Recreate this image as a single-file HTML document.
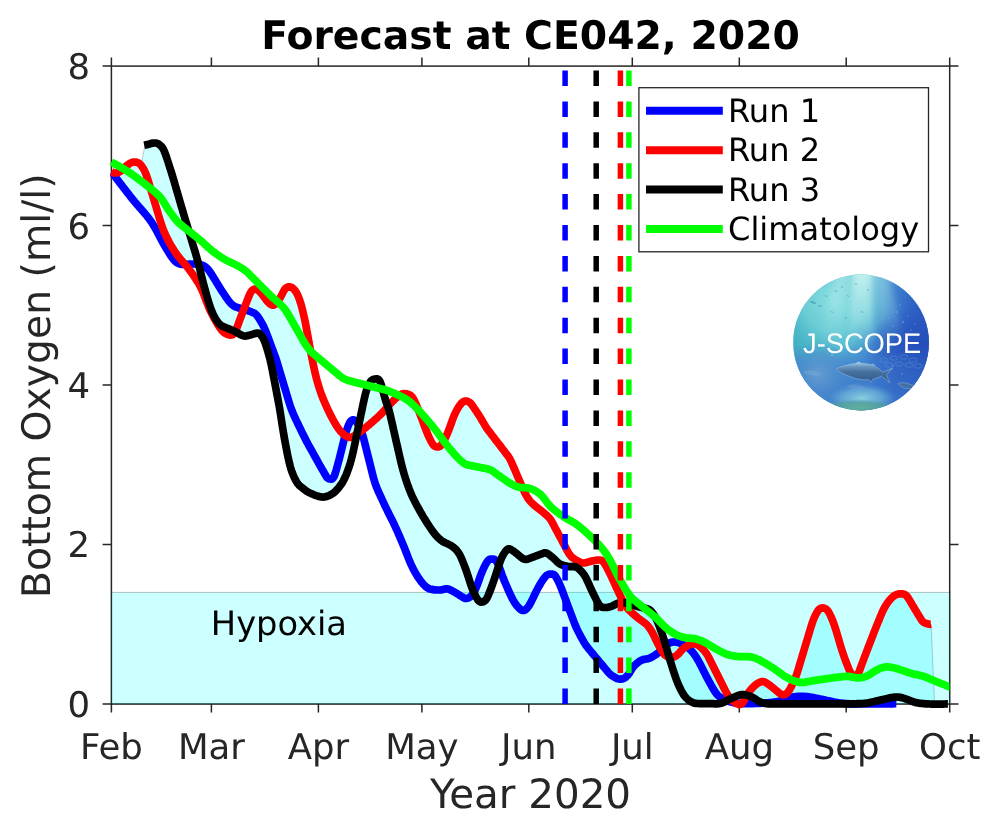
<!DOCTYPE html>
<html lang="en"><head><meta charset="utf-8"><title>Forecast at CE042, 2020</title>
<style>html,body{margin:0;padding:0;background:#fff}svg{display:block;will-change:transform}text{font-family:"DejaVu Sans","Liberation Sans",sans-serif;fill:#262626}</style></head><body>
<svg text-rendering="geometricPrecision" width="1000" height="829" viewBox="0 0 1000 829">
<rect width="1000" height="829" fill="#fff"/>
<g stroke="#262626" stroke-width="1.5" fill="none">
<rect x="111.4" y="66.1" width="838.3" height="637.9"/>
<path d="M111.4,704.0 v8.5 M111.4,66.1 v-8.5"/>
<path d="M211.4,704.0 v8.5 M211.4,66.1 v-8.5"/>
<path d="M318.4,704.0 v8.5 M318.4,66.1 v-8.5"/>
<path d="M421.9,704.0 v8.5 M421.9,66.1 v-8.5"/>
<path d="M528.8,704.0 v8.5 M528.8,66.1 v-8.5"/>
<path d="M632.3,704.0 v8.5 M632.3,66.1 v-8.5"/>
<path d="M739.3,704.0 v8.5 M739.3,66.1 v-8.5"/>
<path d="M846.2,704.0 v8.5 M846.2,66.1 v-8.5"/>
<path d="M949.7,704.0 v8.5 M949.7,66.1 v-8.5"/>
<path d="M111.4,704.0 h-8.8 M949.7,704.0 h8.8"/>
<path d="M111.4,544.5 h-8.8 M949.7,544.5 h8.8"/>
<path d="M111.4,385.1 h-8.8 M949.7,385.1 h8.8"/>
<path d="M111.4,225.6 h-8.8 M949.7,225.6 h8.8"/>
<path d="M111.4,66.1 h-8.8 M949.7,66.1 h8.8"/>
</g>
<rect x="111.4" y="592.4" width="838.3" height="111.6" fill="#00ffff" fill-opacity="0.2" stroke="#000" stroke-opacity="0.25" stroke-width="1"/>
<path d="M112.0,172.1 L113.0,172.5 L114.0,172.8 L115.0,173.0 L116.0,173.0 L117.0,172.9 L118.0,172.6 L119.0,172.1 L120.0,171.5 L121.0,170.8 L122.0,170.0 L123.0,169.1 L124.0,168.1 L125.0,167.1 L126.0,166.2 L127.0,165.4 L128.0,164.6 L129.0,163.9 L130.0,163.3 L131.0,162.8 L132.0,162.4 L133.0,162.2 L134.0,162.0 L135.0,162.0 L136.0,162.1 L137.0,162.4 L138.0,162.8 L139.0,163.3 L140.0,164.1 L141.0,165.2 L145.0,145.1 L146.0,144.9 L147.0,144.7 L148.0,144.4 L149.0,144.1 L150.0,143.8 L151.0,143.5 L152.0,143.3 L153.0,143.1 L154.0,143.0 L155.0,143.0 L156.0,143.1 L157.0,143.4 L158.0,143.7 L159.0,144.2 L160.0,145.1 L161.0,146.0 L162.0,147.1 L163.0,148.5 L164.0,150.5 L165.0,153.1 L166.0,155.8 L167.0,158.8 L168.0,161.8 L169.0,164.9 L170.0,168.1 L171.0,171.2 L172.0,174.4 L173.0,177.6 L174.0,181.0 L175.0,184.5 L176.0,187.9 L177.0,191.4 L178.0,194.9 L179.0,198.3 L180.0,201.7 L181.0,205.1 L182.0,208.5 L183.0,211.9 L184.0,215.3 L185.0,218.7 L186.0,222.0 L187.0,225.3 L188.0,228.6 L189.0,231.8 L190.0,235.1 L191.0,238.4 L192.0,241.6 L193.0,244.9 L194.0,248.2 L195.0,251.6 L196.0,254.9 L197.0,258.3 L198.0,261.8 L199.0,264.4 L200.0,264.6 L201.0,264.8 L202.0,265.2 L203.0,265.5 L204.0,266.0 L205.0,266.6 L206.0,267.4 L207.0,268.3 L208.0,269.4 L209.0,270.7 L210.0,272.0 L211.0,273.5 L212.0,275.0 L213.0,276.6 L214.0,278.2 L215.0,279.8 L216.0,281.5 L217.0,283.1 L218.0,284.8 L219.0,286.4 L220.0,288.0 L221.0,289.6 L222.0,291.1 L223.0,292.7 L224.0,294.2 L225.0,295.7 L226.0,297.2 L227.0,298.6 L228.0,300.0 L229.0,301.3 L230.0,302.5 L231.0,303.6 L232.0,304.5 L233.0,305.3 L234.0,306.0 L235.0,306.6 L236.0,307.0 L237.0,307.3 L238.0,307.7 L239.0,308.0 L240.0,308.3 L241.0,308.5 L242.0,308.8 L243.0,309.1 L244.0,308.8 L245.0,306.2 L246.0,303.6 L247.0,301.1 L248.0,298.5 L249.0,296.0 L250.0,293.7 L251.0,291.9 L252.0,290.6 L253.0,289.7 L254.0,289.1 L255.0,289.0 L256.0,289.2 L257.0,289.6 L258.0,290.2 L259.0,291.0 L260.0,292.0 L261.0,293.1 L262.0,294.4 L263.0,295.7 L264.0,297.0 L265.0,298.4 L266.0,299.7 L267.0,300.9 L268.0,302.0 L269.0,303.0 L270.0,303.9 L271.0,304.6 L272.0,305.0 L273.0,305.2 L274.0,305.0 L275.0,304.4 L276.0,303.5 L277.0,302.3 L278.0,301.0 L279.0,299.5 L280.0,298.0 L281.0,296.3 L282.0,294.4 L283.0,292.4 L284.0,290.5 L285.0,289.0 L286.0,287.9 L287.0,287.3 L288.0,287.0 L289.0,286.9 L290.0,287.0 L291.0,287.2 L292.0,287.7 L293.0,288.4 L294.0,289.4 L295.0,290.6 L296.0,292.0 L297.0,293.7 L298.0,295.8 L299.0,298.3 L300.0,301.1 L301.0,304.4 L302.0,308.0 L303.0,312.0 L304.0,316.3 L305.0,320.9 L306.0,326.0 L307.0,331.4 L308.0,337.0 L309.0,342.6 L310.0,348.0 L311.0,353.2 L312.0,358.3 L313.0,363.2 L314.0,368.0 L315.0,372.5 L316.0,376.6 L317.0,380.4 L318.0,384.0 L319.0,387.3 L320.0,390.5 L321.0,393.4 L322.0,396.0 L323.0,398.5 L324.0,400.9 L325.0,403.2 L326.0,405.5 L327.0,407.7 L328.0,409.9 L329.0,412.0 L330.0,414.0 L331.0,416.0 L332.0,417.9 L333.0,419.7 L334.0,421.5 L335.0,423.3 L336.0,424.9 L337.0,426.5 L338.0,428.0 L339.0,429.4 L340.0,430.7 L341.0,431.8 L342.0,432.9 L343.0,433.8 L344.0,434.6 L345.0,435.4 L346.0,432.4 L347.0,429.2 L348.0,426.4 L349.0,424.0 L350.0,422.1 L351.0,420.8 L352.0,420.1 L353.0,419.8 L354.0,420.0 L355.0,420.5 L356.0,421.3 L357.0,422.5 L358.0,424.0 L359.0,424.0 L360.0,419.2 L361.0,414.4 L362.0,409.6 L363.0,404.8 L364.0,400.0 L365.0,395.6 L366.0,391.9 L367.0,388.8 L368.0,386.2 L369.0,384.0 L370.0,382.2 L371.0,380.9 L372.0,380.0 L373.0,379.4 L374.0,379.1 L375.0,379.0 L376.0,378.9 L377.0,378.9 L378.0,379.2 L379.0,380.0 L380.0,381.6 L381.0,384.0 L382.0,387.3 L383.0,390.9 L384.0,394.7 L385.0,398.3 L386.0,401.5 L387.0,404.3 L388.0,406.4 L389.0,405.2 L390.0,404.1 L391.0,403.1 L392.0,402.0 L393.0,401.0 L394.0,400.0 L395.0,399.1 L396.0,398.2 L397.0,397.4 L398.0,396.5 L399.0,395.8 L400.0,395.0 L401.0,394.4 L402.0,394.0 L403.0,393.7 L404.0,393.7 L405.0,393.7 L406.0,393.8 L407.0,394.0 L408.0,394.2 L409.0,394.6 L410.0,395.1 L411.0,395.9 L412.0,396.9 L413.0,398.2 L414.0,400.0 L415.0,402.0 L416.0,404.2 L417.0,406.5 L418.0,408.9 L419.0,411.4 L420.0,414.0 L421.0,416.6 L422.0,419.3 L423.0,422.0 L424.0,424.7 L425.0,427.4 L426.0,430.0 L427.0,432.5 L428.0,434.9 L429.0,437.1 L430.0,439.2 L431.0,441.1 L432.0,443.0 L433.0,444.6 L434.0,445.7 L435.0,446.4 L436.0,446.8 L437.0,447.0 L438.0,447.0 L439.0,446.8 L440.0,446.2 L441.0,445.3 L442.0,444.0 L443.0,442.4 L444.0,440.6 L445.0,438.7 L446.0,436.6 L447.0,434.4 L448.0,432.0 L449.0,429.5 L450.0,426.8 L451.0,424.0 L452.0,421.2 L453.0,418.5 L454.0,416.0 L455.0,413.7 L456.0,411.7 L457.0,409.8 L458.0,408.0 L459.0,406.4 L460.0,405.0 L461.0,403.7 L462.0,402.7 L463.0,401.9 L464.0,401.3 L465.0,401.0 L466.0,401.0 L467.0,401.2 L468.0,401.5 L469.0,402.0 L470.0,402.7 L471.0,403.7 L472.0,405.0 L473.0,406.4 L474.0,407.9 L475.0,409.4 L476.0,410.8 L477.0,412.3 L478.0,413.9 L479.0,415.4 L480.0,417.0 L481.0,418.6 L482.0,420.3 L483.0,422.1 L484.0,423.8 L485.0,425.5 L486.0,427.1 L487.0,428.6 L488.0,430.0 L489.0,431.3 L490.0,432.6 L491.0,433.9 L492.0,435.2 L493.0,436.5 L494.0,437.8 L495.0,439.1 L496.0,440.4 L497.0,441.7 L498.0,443.0 L499.0,444.3 L500.0,445.6 L501.0,446.9 L502.0,448.2 L503.0,449.5 L504.0,450.8 L505.0,452.1 L506.0,453.4 L507.0,454.7 L508.0,456.0 L509.0,457.5 L510.0,459.3 L511.0,461.3 L512.0,463.4 L513.0,465.7 L514.0,468.0 L515.0,470.3 L516.0,472.6 L517.0,475.0 L518.0,477.3 L519.0,479.7 L520.0,482.0 L521.0,484.3 L522.0,486.6 L523.0,488.8 L524.0,490.9 L525.0,493.0 L526.0,495.0 L527.0,496.8 L528.0,498.4 L529.0,499.8 L530.0,501.0 L531.0,502.1 L532.0,503.1 L533.0,504.1 L534.0,505.0 L535.0,505.9 L536.0,506.7 L537.0,507.5 L538.0,508.3 L539.0,509.0 L540.0,509.7 L541.0,510.5 L542.0,511.3 L543.0,512.1 L544.0,513.0 L545.0,513.9 L546.0,514.7 L547.0,515.6 L548.0,516.5 L549.0,517.6 L550.0,518.8 L551.0,520.3 L552.0,522.0 L553.0,523.9 L554.0,525.8 L555.0,527.6 L556.0,529.5 L557.0,531.4 L558.0,533.2 L559.0,535.1 L560.0,537.0 L561.0,538.9 L562.0,540.8 L563.0,542.6 L564.0,544.5 L565.0,546.4 L566.0,548.2 L567.0,550.1 L568.0,552.0 L569.0,553.7 L570.0,555.1 L571.0,556.3 L572.0,557.2 L573.0,558.0 L574.0,558.7 L575.0,559.4 L576.0,560.0 L577.0,560.6 L578.0,561.2 L579.0,561.8 L580.0,562.3 L581.0,562.7 L582.0,562.9 L583.0,563.1 L584.0,563.0 L585.0,562.8 L586.0,562.6 L587.0,562.3 L588.0,562.1 L589.0,561.8 L590.0,561.5 L591.0,561.2 L592.0,561.0 L593.0,560.8 L594.0,560.6 L595.0,560.4 L596.0,560.3 L597.0,560.2 L598.0,560.1 L599.0,560.0 L600.0,560.0 L601.0,560.2 L602.0,560.7 L603.0,561.6 L604.0,562.8 L605.0,564.3 L606.0,566.0 L607.0,567.9 L608.0,569.8 L609.0,571.8 L610.0,573.8 L611.0,575.9 L612.0,578.0 L613.0,580.2 L614.0,582.3 L615.0,584.5 L616.0,586.7 L617.0,588.9 L618.0,591.0 L619.0,593.1 L620.0,595.2 L621.0,597.2 L622.0,599.2 L623.0,601.1 L624.0,602.8 L625.0,602.9 L626.0,603.0 L627.0,603.2 L628.0,603.5 L629.0,603.8 L630.0,604.1 L631.0,604.4 L632.0,604.7 L633.0,605.0 L634.0,605.3 L635.0,605.6 L636.0,605.9 L637.0,606.2 L638.0,606.5 L639.0,606.8 L640.0,607.0 L641.0,607.3 L642.0,607.5 L643.0,607.8 L644.0,608.0 L645.0,608.2 L646.0,608.5 L647.0,608.7 L648.0,609.0 L649.0,609.4 L650.0,610.1 L651.0,611.0 L652.0,612.2 L653.0,613.5 L654.0,615.0 L655.0,616.7 L656.0,618.5 L657.0,620.6 L658.0,622.8 L659.0,625.3 L660.0,628.0 L661.0,630.8 L662.0,633.7 L663.0,636.7 L664.0,639.8 L665.0,643.0 L666.0,645.0 L667.0,644.3 L668.0,643.7 L669.0,643.2 L670.0,642.7 L671.0,642.4 L672.0,642.2 L673.0,642.1 L674.0,642.0 L675.0,642.0 L676.0,642.1 L677.0,642.3 L678.0,642.5 L679.0,642.8 L680.0,643.2 L681.0,643.6 L682.0,644.0 L683.0,644.5 L684.0,645.0 L685.0,645.6 L686.0,646.2 L687.0,646.0 L688.0,645.5 L689.0,645.0 L690.0,644.6 L691.0,644.2 L692.0,644.0 L693.0,643.9 L694.0,643.9 L695.0,644.0 L696.0,644.3 L697.0,644.7 L698.0,645.2 L699.0,645.8 L700.0,646.6 L701.0,647.4 L702.0,648.4 L703.0,649.3 L704.0,650.4 L705.0,651.6 L706.0,652.9 L707.0,654.4 L708.0,656.1 L709.0,658.0 L710.0,660.0 L711.0,662.0 L712.0,664.0 L713.0,666.0 L714.0,668.0 L715.0,670.0 L716.0,672.0 L717.0,674.0 L718.0,676.0 L719.0,678.0 L720.0,680.0 L721.0,682.0 L722.0,684.0 L723.0,686.0 L724.0,688.0 L725.0,690.0 L726.0,691.9 L727.0,693.6 L728.0,695.2 L729.0,696.6 L730.0,698.0 L731.0,698.5 L732.0,698.1 L733.0,697.6 L734.0,697.2 L735.0,696.7 L736.0,696.3 L737.0,695.9 L738.0,695.5 L739.0,695.2 L740.0,694.9 L741.0,694.7 L742.0,694.7 L743.0,694.6 L744.0,694.7 L745.0,694.8 L746.0,695.0 L747.0,694.9 L748.0,693.1 L749.0,691.8 L750.0,690.6 L751.0,689.4 L752.0,688.3 L753.0,687.2 L754.0,686.2 L755.0,685.3 L756.0,684.5 L757.0,683.8 L758.0,683.2 L759.0,682.6 L760.0,682.2 L761.0,681.8 L762.0,681.6 L763.0,681.6 L764.0,681.7 L765.0,682.1 L766.0,682.7 L767.0,683.4 L768.0,684.1 L769.0,684.8 L770.0,685.5 L771.0,686.3 L772.0,687.0 L773.0,687.8 L774.0,688.6 L775.0,689.4 L776.0,690.3 L777.0,691.1 L778.0,692.0 L779.0,692.8 L780.0,693.6 L781.0,694.2 L782.0,694.5 L783.0,694.6 L784.0,694.6 L785.0,694.4 L786.0,693.9 L787.0,693.1 L788.0,692.0 L789.0,690.6 L790.0,688.9 L791.0,687.0 L792.0,685.1 L793.0,683.1 L794.0,681.0 L795.0,678.7 L796.0,676.2 L797.0,673.3 L798.0,670.2 L799.0,666.9 L800.0,663.5 L801.0,660.2 L802.0,656.9 L803.0,653.5 L804.0,650.2 L805.0,646.9 L806.0,643.5 L807.0,640.2 L808.0,636.9 L809.0,633.5 L810.0,630.2 L811.0,626.9 L812.0,623.7 L813.0,620.8 L814.0,618.3 L815.0,616.0 L816.0,614.0 L817.0,612.3 L818.0,610.7 L819.0,609.5 L820.0,608.7 L821.0,608.2 L822.0,608.0 L823.0,608.0 L824.0,608.1 L825.0,608.4 L826.0,609.0 L827.0,609.8 L828.0,611.0 L829.0,612.7 L830.0,614.6 L831.0,616.7 L832.0,619.0 L833.0,621.5 L834.0,624.3 L835.0,627.2 L836.0,630.3 L837.0,633.6 L838.0,637.0 L839.0,640.5 L840.0,643.9 L841.0,647.2 L842.0,650.4 L843.0,653.4 L844.0,656.3 L845.0,659.1 L846.0,661.8 L847.0,664.4 L848.0,667.0 L849.0,669.4 L850.0,671.5 L851.0,673.1 L852.0,674.4 L853.0,675.5 L854.0,676.2 L855.0,676.5 L856.0,676.4 L857.0,675.7 L858.0,674.2 L859.0,671.9 L860.0,669.2 L861.0,666.6 L862.0,663.9 L863.0,661.2 L864.0,658.5 L865.0,655.8 L866.0,653.2 L867.0,650.6 L868.0,648.0 L869.0,645.4 L870.0,642.8 L871.0,640.2 L872.0,637.6 L873.0,635.0 L874.0,632.4 L875.0,629.9 L876.0,627.4 L877.0,624.9 L878.0,622.4 L879.0,620.0 L880.0,617.5 L881.0,615.1 L882.0,612.8 L883.0,610.5 L884.0,608.5 L885.0,606.7 L886.0,605.0 L887.0,603.5 L888.0,602.2 L889.0,600.9 L890.0,599.7 L891.0,598.6 L892.0,597.6 L893.0,596.7 L894.0,595.9 L895.0,595.3 L896.0,594.8 L897.0,594.4 L898.0,594.1 L899.0,593.9 L900.0,593.8 L901.0,593.8 L902.0,593.8 L903.0,593.9 L904.0,594.2 L905.0,594.6 L906.0,595.3 L907.0,596.3 L908.0,597.7 L909.0,599.3 L910.0,601.0 L911.0,602.6 L912.0,604.3 L913.0,606.0 L914.0,607.7 L915.0,609.3 L916.0,611.0 L917.0,612.6 L918.0,614.3 L919.0,615.9 L920.0,617.6 L921.0,619.2 L922.0,620.7 L923.0,621.8 L924.0,622.5 L925.0,623.0 L926.0,623.4 L927.0,623.7 L928.0,623.9 L929.0,624.2 L930.0,624.3 L931.0,624.2 L931.0,624.2 L934.6,704.0 L934.0,704.0 L933.0,704.0 L932.0,704.0 L931.0,704.0 L930.0,704.0 L929.0,704.0 L928.0,703.9 L927.0,703.9 L926.0,703.8 L925.0,703.8 L924.0,703.7 L923.0,703.6 L922.0,703.5 L921.0,703.4 L920.0,703.3 L919.0,703.1 L918.0,703.0 L917.0,702.8 L916.0,702.5 L915.0,702.3 L914.0,702.0 L913.0,701.7 L912.0,701.3 L911.0,700.9 L910.0,700.5 L909.0,700.1 L908.0,699.7 L907.0,699.3 L906.0,699.0 L905.0,698.7 L904.0,698.4 L903.0,698.1 L902.0,697.8 L901.0,697.5 L900.0,697.3 L899.0,697.1 L898.0,697.0 L897.0,697.0 L896.0,703.7 L895.0,703.7 L894.0,703.7 L893.0,703.8 L892.0,703.8 L891.0,703.8 L890.0,703.8 L889.0,703.8 L888.0,703.8 L887.0,703.8 L886.0,703.9 L885.0,703.9 L884.0,703.9 L883.0,703.9 L882.0,703.9 L881.0,703.9 L880.0,703.9 L879.0,703.9 L878.0,703.9 L877.0,703.9 L876.0,704.0 L875.0,704.0 L874.0,704.0 L873.0,704.0 L872.0,704.0 L871.0,704.0 L870.0,704.0 L869.0,704.0 L868.0,704.0 L867.0,704.0 L866.0,704.0 L865.0,704.0 L864.0,704.0 L863.0,704.0 L862.0,704.0 L861.0,704.0 L860.0,704.0 L859.0,704.0 L858.0,704.0 L857.0,704.0 L856.0,704.0 L855.0,704.0 L854.0,704.0 L853.0,704.0 L852.0,704.0 L851.0,703.9 L850.0,703.9 L849.0,703.9 L848.0,703.9 L847.0,703.9 L846.0,703.9 L845.0,703.9 L844.0,703.9 L843.0,703.9 L842.0,703.9 L841.0,703.9 L840.0,703.9 L839.0,703.9 L838.0,703.9 L837.0,703.9 L836.0,703.9 L835.0,703.9 L834.0,703.9 L833.0,703.9 L832.0,703.9 L831.0,703.9 L830.0,703.9 L829.0,703.9 L828.0,703.9 L827.0,703.9 L826.0,703.9 L825.0,703.9 L824.0,703.9 L823.0,703.9 L822.0,703.9 L821.0,703.9 L820.0,703.9 L819.0,703.9 L818.0,703.9 L817.0,703.9 L816.0,703.9 L815.0,703.9 L814.0,703.9 L813.0,703.9 L812.0,703.9 L811.0,703.9 L810.0,703.9 L809.0,703.9 L808.0,703.9 L807.0,703.9 L806.0,703.9 L805.0,703.9 L804.0,703.9 L803.0,703.9 L802.0,703.9 L801.0,703.9 L800.0,703.9 L799.0,703.9 L798.0,703.9 L797.0,703.9 L796.0,703.9 L795.0,703.9 L794.0,703.9 L793.0,703.9 L792.0,703.9 L791.0,703.9 L790.0,703.9 L789.0,703.9 L788.0,703.9 L787.0,703.9 L786.0,703.9 L785.0,703.9 L784.0,703.9 L783.0,703.9 L782.0,703.9 L781.0,703.9 L780.0,703.9 L779.0,703.9 L778.0,703.9 L777.0,703.9 L776.0,703.9 L775.0,703.9 L774.0,703.9 L773.0,703.8 L772.0,703.8 L771.0,703.8 L770.0,703.8 L769.0,703.8 L768.0,703.8 L767.0,703.7 L766.0,703.6 L765.0,703.4 L764.0,703.2 L763.0,703.1 L762.0,703.2 L761.0,703.2 L760.0,703.3 L759.0,703.4 L758.0,703.4 L757.0,703.5 L756.0,703.5 L755.0,703.5 L754.0,703.6 L753.0,703.6 L752.0,703.6 L751.0,703.6 L750.0,703.7 L749.0,703.7 L748.0,703.7 L747.0,703.7 L746.0,703.6 L745.0,703.6 L744.0,703.6 L743.0,703.6 L742.0,703.6 L741.0,704.0 L740.0,704.0 L739.0,704.0 L738.0,704.0 L737.0,703.8 L736.0,703.2 L735.0,702.9 L734.0,702.7 L733.0,702.4 L732.0,702.2 L731.0,702.0 L730.0,701.8 L729.0,701.5 L728.0,701.1 L727.0,700.8 L726.0,701.2 L725.0,701.7 L724.0,702.2 L723.0,702.6 L722.0,703.0 L721.0,703.3 L720.0,703.5 L719.0,703.6 L718.0,703.7 L717.0,703.8 L716.0,703.8 L715.0,703.8 L714.0,703.8 L713.0,703.7 L712.0,703.7 L711.0,703.7 L710.0,703.7 L709.0,703.7 L708.0,703.7 L707.0,703.7 L706.0,703.7 L705.0,703.7 L704.0,703.7 L703.0,703.7 L702.0,703.7 L701.0,703.6 L700.0,703.6 L699.0,703.6 L698.0,703.5 L697.0,703.5 L696.0,703.4 L695.0,703.3 L694.0,703.0 L693.0,702.6 L692.0,702.2 L691.0,701.7 L690.0,701.1 L689.0,700.5 L688.0,699.7 L687.0,698.7 L686.0,697.7 L685.0,696.5 L684.0,695.2 L683.0,693.7 L682.0,692.0 L681.0,690.1 L680.0,688.1 L679.0,686.0 L678.0,683.7 L677.0,681.2 L676.0,678.5 L675.0,675.6 L674.0,672.6 L673.0,669.6 L672.0,666.5 L671.0,663.3 L670.0,660.0 L669.0,656.9 L668.0,656.7 L667.0,656.4 L666.0,655.9 L665.0,655.1 L664.0,654.0 L663.0,652.6 L662.0,651.1 L661.0,650.1 L660.0,651.2 L659.0,652.2 L658.0,653.0 L657.0,653.8 L656.0,654.5 L655.0,655.2 L654.0,655.8 L653.0,656.4 L652.0,657.0 L651.0,657.5 L650.0,658.0 L649.0,658.4 L648.0,658.7 L647.0,658.9 L646.0,659.0 L645.0,659.2 L644.0,659.4 L643.0,659.6 L642.0,660.0 L641.0,660.5 L640.0,661.0 L639.0,661.7 L638.0,662.4 L637.0,663.2 L636.0,664.1 L635.0,665.0 L634.0,666.0 L633.0,667.2 L632.0,668.8 L631.0,670.4 L630.0,672.1 L629.0,673.7 L628.0,675.0 L627.0,676.0 L626.0,676.9 L625.0,677.7 L624.0,678.3 L623.0,678.7 L622.0,679.0 L621.0,679.1 L620.0,679.1 L619.0,679.0 L618.0,678.8 L617.0,678.5 L616.0,678.0 L615.0,677.5 L614.0,676.9 L613.0,676.3 L612.0,675.7 L611.0,674.9 L610.0,674.1 L609.0,673.1 L608.0,672.0 L607.0,670.8 L606.0,669.6 L605.0,668.4 L604.0,667.2 L603.0,666.0 L602.0,664.8 L601.0,663.6 L600.0,662.4 L599.0,661.2 L598.0,660.0 L597.0,658.8 L596.0,657.6 L595.0,656.4 L594.0,655.2 L593.0,654.0 L592.0,652.8 L591.0,651.6 L590.0,650.4 L589.0,649.2 L588.0,648.0 L587.0,646.7 L586.0,645.3 L585.0,643.8 L584.0,642.2 L583.0,640.5 L582.0,638.7 L581.0,636.9 L580.0,635.0 L579.0,633.1 L578.0,631.1 L577.0,629.1 L576.0,626.9 L575.0,624.6 L574.0,622.0 L573.0,619.3 L572.0,616.7 L571.0,614.0 L570.0,611.3 L569.0,608.7 L568.0,606.0 L567.0,603.3 L566.0,600.7 L565.0,598.0 L564.0,595.3 L563.0,592.7 L562.0,590.0 L561.0,587.4 L560.0,585.0 L559.0,582.8 L558.0,580.7 L557.0,578.8 L556.0,577.0 L555.0,575.6 L554.0,574.7 L553.0,574.2 L552.0,574.0 L551.0,574.0 L550.0,574.1 L549.0,574.3 L548.0,574.6 L547.0,575.1 L546.0,575.9 L545.0,577.0 L544.0,578.3 L543.0,579.7 L542.0,581.2 L541.0,582.8 L540.0,584.5 L539.0,586.2 L538.0,588.0 L537.0,589.9 L536.0,591.9 L535.0,593.9 L534.0,596.0 L533.0,598.1 L532.0,600.1 L531.0,602.1 L530.0,604.0 L529.0,605.7 L528.0,607.1 L527.0,608.3 L526.0,609.3 L525.0,610.0 L524.0,610.4 L523.0,610.5 L522.0,610.3 L521.0,609.8 L520.0,609.0 L519.0,608.0 L518.0,607.0 L517.0,605.9 L516.0,604.6 L515.0,603.2 L514.0,601.6 L513.0,599.9 L512.0,598.0 L511.0,595.9 L510.0,593.8 L509.0,591.6 L508.0,589.4 L507.0,587.1 L506.0,584.7 L505.0,582.4 L504.0,580.0 L503.0,577.5 L502.0,574.7 L501.0,571.9 L500.0,569.1 L499.0,566.4 L498.0,567.9 L497.0,570.9 L496.0,574.0 L495.0,577.1 L494.0,580.0 L493.0,582.9 L492.0,585.7 L491.0,588.4 L490.0,591.0 L489.0,593.6 L488.0,596.0 L487.0,598.1 L486.0,599.6 L485.0,600.6 L484.0,601.3 L483.0,601.7 L482.0,602.0 L481.0,602.1 L480.0,601.8 L479.0,601.1 L478.0,600.0 L477.0,598.5 L476.0,596.8 L475.0,594.9 L474.0,592.9 L473.0,593.7 L472.0,595.1 L471.0,596.2 L470.0,597.0 L469.0,597.6 L468.0,598.1 L467.0,598.4 L466.0,598.5 L465.0,598.4 L464.0,598.0 L463.0,597.4 L462.0,596.8 L461.0,596.2 L460.0,595.5 L459.0,594.8 L458.0,594.2 L457.0,593.6 L456.0,593.0 L455.0,592.4 L454.0,591.9 L453.0,591.3 L452.0,590.7 L451.0,590.2 L450.0,589.7 L449.0,589.3 L448.0,589.0 L447.0,588.8 L446.0,588.8 L445.0,589.0 L444.0,589.2 L443.0,589.5 L442.0,589.7 L441.0,589.9 L440.0,590.0 L439.0,590.0 L438.0,590.0 L437.0,590.0 L436.0,589.9 L435.0,589.9 L434.0,589.8 L433.0,589.6 L432.0,589.4 L431.0,589.2 L430.0,589.0 L429.0,588.7 L428.0,588.2 L427.0,587.5 L426.0,586.8 L425.0,585.9 L424.0,584.9 L423.0,583.8 L422.0,582.6 L421.0,581.3 L420.0,580.0 L419.0,578.6 L418.0,577.1 L417.0,575.6 L416.0,573.9 L415.0,572.2 L414.0,570.4 L413.0,568.5 L412.0,566.4 L411.0,564.3 L410.0,562.0 L409.0,559.6 L408.0,557.1 L407.0,554.5 L406.0,552.0 L405.0,549.4 L404.0,546.8 L403.0,544.4 L402.0,542.0 L401.0,539.7 L400.0,537.4 L399.0,535.1 L398.0,532.8 L397.0,530.5 L396.0,528.3 L395.0,526.1 L394.0,524.0 L393.0,521.9 L392.0,519.9 L391.0,518.0 L390.0,516.0 L389.0,514.0 L388.0,512.0 L387.0,509.9 L386.0,507.9 L385.0,505.8 L384.0,503.6 L383.0,501.5 L382.0,499.3 L381.0,497.2 L380.0,495.0 L379.0,492.8 L378.0,490.6 L377.0,488.3 L376.0,485.8 L375.0,483.0 L374.0,479.7 L373.0,476.0 L372.0,472.0 L371.0,468.0 L370.0,464.0 L369.0,460.0 L368.0,456.0 L367.0,452.0 L366.0,448.0 L365.0,444.0 L364.0,440.0 L363.0,436.3 L362.0,433.2 L361.0,431.2 L360.0,432.0 L359.0,432.8 L358.0,433.5 L357.0,434.2 L356.0,438.4 L355.0,443.2 L354.0,448.0 L353.0,452.6 L352.0,456.7 L351.0,460.5 L350.0,464.0 L349.0,467.1 L348.0,470.0 L347.0,472.7 L346.0,475.1 L345.0,477.4 L344.0,479.5 L343.0,481.4 L342.0,483.1 L341.0,484.6 L340.0,486.0 L339.0,487.3 L338.0,488.5 L337.0,489.6 L336.0,490.7 L335.0,491.7 L334.0,492.6 L333.0,493.4 L332.0,494.0 L331.0,494.6 L330.0,495.1 L329.0,495.6 L328.0,496.0 L327.0,496.4 L326.0,496.7 L325.0,496.9 L324.0,497.0 L323.0,497.1 L322.0,497.0 L321.0,496.9 L320.0,496.7 L319.0,496.4 L318.0,496.2 L317.0,495.9 L316.0,495.5 L315.0,495.2 L314.0,494.8 L313.0,494.4 L312.0,493.9 L311.0,493.5 L310.0,493.0 L309.0,492.5 L308.0,491.9 L307.0,491.3 L306.0,490.7 L305.0,490.0 L304.0,489.2 L303.0,488.5 L302.0,487.7 L301.0,486.8 L300.0,486.0 L299.0,485.0 L298.0,483.9 L297.0,482.5 L296.0,480.8 L295.0,479.0 L294.0,476.9 L293.0,474.6 L292.0,472.0 L291.0,469.0 L290.0,465.5 L289.0,461.4 L288.0,456.9 L287.0,452.0 L286.0,446.8 L285.0,441.4 L284.0,435.8 L283.0,430.0 L282.0,423.8 L281.0,417.2 L280.0,410.8 L279.0,405.0 L278.0,399.7 L277.0,394.4 L276.0,389.2 L275.0,384.0 L274.0,378.8 L273.0,373.6 L272.0,368.5 L271.0,363.6 L270.0,359.3 L269.0,355.6 L268.0,352.0 L267.0,348.6 L266.0,345.4 L265.0,342.5 L264.0,340.0 L263.0,338.0 L262.0,336.4 L261.0,335.0 L260.0,334.0 L259.0,333.3 L258.0,333.0 L257.0,333.0 L256.0,333.2 L255.0,333.5 L254.0,333.8 L253.0,334.2 L252.0,334.5 L251.0,334.8 L250.0,335.0 L249.0,335.3 L248.0,335.5 L247.0,335.8 L246.0,336.0 L245.0,336.1 L244.0,336.0 L243.0,335.7 L242.0,335.3 L241.0,334.9 L240.0,334.4 L239.0,333.8 L238.0,333.2 L237.0,332.6 L236.0,332.0 L235.0,332.2 L234.0,333.6 L233.0,334.5 L232.0,335.0 L231.0,335.1 L230.0,335.0 L229.0,334.8 L228.0,334.6 L227.0,334.2 L226.0,333.8 L225.0,333.2 L224.0,332.5 L223.0,331.6 L222.0,330.6 L221.0,329.4 L220.0,328.0 L219.0,326.5 L218.0,324.9 L217.0,323.3 L216.0,321.6 L215.0,319.8 L214.0,318.0 L213.0,316.1 L212.0,314.1 L211.0,312.1 L210.0,310.0 L209.0,307.8 L208.0,305.4 L207.0,302.8 L206.0,300.2 L205.0,297.6 L204.0,295.0 L203.0,292.5 L202.0,290.1 L201.0,287.9 L200.0,286.0 L199.0,284.2 L198.0,282.5 L197.0,280.9 L196.0,279.3 L195.0,277.7 L194.0,276.2 L193.0,274.8 L192.0,273.4 L191.0,272.0 L190.0,270.6 L189.0,269.3 L188.0,268.0 L187.0,266.7 L186.0,265.5 L185.0,264.4 L184.0,264.4 L183.0,264.4 L182.0,264.3 L181.0,264.2 L180.0,264.0 L179.0,263.7 L178.0,263.3 L177.0,262.7 L176.0,262.0 L175.0,261.1 L174.0,260.0 L173.0,258.8 L172.0,257.4 L171.0,256.0 L170.0,254.5 L169.0,252.9 L168.0,251.3 L167.0,249.6 L166.0,248.0 L165.0,246.3 L164.0,244.6 L163.0,242.8 L162.0,240.9 L161.0,239.1 L160.0,237.2 L159.0,235.3 L158.0,233.4 L157.0,231.5 L156.0,229.7 L155.0,227.9 L154.0,226.1 L153.0,224.5 L152.0,222.9 L151.0,221.4 L150.0,220.0 L149.0,218.7 L148.0,217.4 L147.0,216.1 L146.0,214.9 L145.0,213.7 L144.0,212.5 L143.0,211.4 L142.0,210.2 L141.0,209.0 L140.0,207.9 L139.0,206.8 L138.0,205.6 L137.0,204.5 L136.0,203.3 L135.0,202.1 L134.0,201.0 L133.0,199.7 L132.0,198.5 L131.0,197.3 L130.0,196.0 L129.0,194.7 L128.0,193.4 L127.0,192.1 L126.0,190.8 L125.0,189.5 L124.0,188.3 L123.0,187.0 L122.0,185.7 L121.0,184.4 L120.0,183.1 L119.0,181.8 L118.0,180.4 L117.0,179.1 L116.0,177.8 L115.0,176.5 L114.0,175.1 L113.0,173.8 L112.0,172.4Z" fill="#00ffff" fill-opacity="0.2" stroke="#000" stroke-opacity="0.2" stroke-width="1" stroke-linejoin="round"/>
<clipPath id="axc"><rect x="110.3" y="50" width="839.1" height="670"/></clipPath>
<g fill="none" stroke-width="7.7" stroke-linejoin="round" stroke-linecap="butt" clip-path="url(#axc)">
<path stroke="#0000ff" d="M112.0,172.4 L113.0,173.8 L114.0,175.1 L115.0,176.5 L116.0,177.8 L117.0,179.1 L118.0,180.4 L119.0,181.8 L120.0,183.1 L121.0,184.4 L122.0,185.7 L123.0,187.0 L124.0,188.3 L125.0,189.5 L126.0,190.8 L127.0,192.1 L128.0,193.4 L129.0,194.7 L130.0,196.0 L131.0,197.3 L132.0,198.5 L133.0,199.7 L134.0,201.0 L135.0,202.1 L136.0,203.3 L137.0,204.5 L138.0,205.6 L139.0,206.8 L140.0,207.9 L141.0,209.0 L142.0,210.2 L143.0,211.4 L144.0,212.5 L145.0,213.7 L146.0,214.9 L147.0,216.1 L148.0,217.4 L149.0,218.7 L150.0,220.0 L151.0,221.4 L152.0,222.9 L153.0,224.5 L154.0,226.1 L155.0,227.9 L156.0,229.7 L157.0,231.5 L158.0,233.4 L159.0,235.3 L160.0,237.2 L161.0,239.1 L162.0,240.9 L163.0,242.8 L164.0,244.6 L165.0,246.3 L166.0,248.0 L167.0,249.6 L168.0,251.3 L169.0,252.9 L170.0,254.5 L171.0,256.0 L172.0,257.4 L173.0,258.8 L174.0,260.0 L175.0,261.1 L176.0,262.0 L177.0,262.7 L178.0,263.3 L179.0,263.7 L180.0,264.0 L181.0,264.2 L182.0,264.3 L183.0,264.4 L184.0,264.4 L185.0,264.4 L186.0,264.4 L187.0,264.3 L188.0,264.3 L189.0,264.2 L190.0,264.1 L191.0,264.1 L192.0,264.0 L193.0,264.0 L194.0,264.0 L195.0,264.0 L196.0,264.1 L197.0,264.2 L198.0,264.3 L199.0,264.4 L200.0,264.6 L201.0,264.8 L202.0,265.2 L203.0,265.5 L204.0,266.0 L205.0,266.6 L206.0,267.4 L207.0,268.3 L208.0,269.4 L209.0,270.7 L210.0,272.0 L211.0,273.5 L212.0,275.0 L213.0,276.6 L214.0,278.2 L215.0,279.8 L216.0,281.5 L217.0,283.1 L218.0,284.8 L219.0,286.4 L220.0,288.0 L221.0,289.6 L222.0,291.1 L223.0,292.7 L224.0,294.2 L225.0,295.7 L226.0,297.2 L227.0,298.6 L228.0,300.0 L229.0,301.3 L230.0,302.5 L231.0,303.6 L232.0,304.5 L233.0,305.3 L234.0,306.0 L235.0,306.6 L236.0,307.0 L237.0,307.3 L238.0,307.7 L239.0,308.0 L240.0,308.3 L241.0,308.5 L242.0,308.8 L243.0,309.1 L244.0,309.4 L245.0,309.7 L246.0,310.0 L247.0,310.3 L248.0,310.7 L249.0,311.0 L250.0,311.4 L251.0,311.8 L252.0,312.2 L253.0,312.6 L254.0,313.0 L255.0,313.6 L256.0,314.5 L257.0,315.6 L258.0,316.9 L259.0,318.4 L260.0,320.0 L261.0,321.7 L262.0,323.4 L263.0,325.3 L264.0,327.3 L265.0,329.5 L266.0,332.0 L267.0,334.6 L268.0,337.2 L269.0,339.9 L270.0,342.6 L271.0,345.3 L272.0,348.0 L273.0,350.7 L274.0,353.3 L275.0,356.0 L276.0,358.8 L277.0,362.0 L278.0,365.3 L279.0,368.7 L280.0,372.0 L281.0,375.3 L282.0,378.7 L283.0,382.0 L284.0,385.3 L285.0,388.7 L286.0,392.0 L287.0,395.3 L288.0,398.7 L289.0,402.0 L290.0,405.2 L291.0,408.1 L292.0,410.8 L293.0,413.2 L294.0,415.5 L295.0,417.7 L296.0,419.9 L297.0,421.9 L298.0,424.0 L299.0,426.1 L300.0,428.2 L301.0,430.2 L302.0,432.3 L303.0,434.3 L304.0,436.3 L305.0,438.3 L306.0,440.3 L307.0,442.2 L308.0,444.0 L309.0,445.8 L310.0,447.6 L311.0,449.4 L312.0,451.2 L313.0,453.0 L314.0,454.8 L315.0,456.6 L316.0,458.4 L317.0,460.2 L318.0,462.0 L319.0,463.8 L320.0,465.6 L321.0,467.3 L322.0,469.1 L323.0,470.8 L324.0,472.5 L325.0,474.3 L326.0,476.0 L327.0,477.4 L328.0,478.2 L329.0,478.7 L330.0,479.0 L331.0,479.1 L332.0,478.9 L333.0,478.1 L334.0,476.6 L335.0,474.0 L336.0,470.8 L337.0,467.3 L338.0,463.6 L339.0,459.9 L340.0,456.0 L341.0,452.0 L342.0,448.0 L343.0,443.9 L344.0,439.9 L345.0,436.0 L346.0,432.4 L347.0,429.2 L348.0,426.4 L349.0,424.0 L350.0,422.1 L351.0,420.8 L352.0,420.1 L353.0,419.8 L354.0,420.0 L355.0,420.5 L356.0,421.3 L357.0,422.5 L358.0,424.0 L359.0,426.0 L360.0,428.2 L361.0,430.6 L362.0,433.2 L363.0,436.3 L364.0,440.0 L365.0,444.0 L366.0,448.0 L367.0,452.0 L368.0,456.0 L369.0,460.0 L370.0,464.0 L371.0,468.0 L372.0,472.0 L373.0,476.0 L374.0,479.7 L375.0,483.0 L376.0,485.8 L377.0,488.3 L378.0,490.6 L379.0,492.8 L380.0,495.0 L381.0,497.2 L382.0,499.3 L383.0,501.5 L384.0,503.6 L385.0,505.8 L386.0,507.9 L387.0,509.9 L388.0,512.0 L389.0,514.0 L390.0,516.0 L391.0,518.0 L392.0,519.9 L393.0,521.9 L394.0,524.0 L395.0,526.1 L396.0,528.3 L397.0,530.5 L398.0,532.8 L399.0,535.1 L400.0,537.4 L401.0,539.7 L402.0,542.0 L403.0,544.4 L404.0,546.8 L405.0,549.4 L406.0,552.0 L407.0,554.5 L408.0,557.1 L409.0,559.6 L410.0,562.0 L411.0,564.3 L412.0,566.4 L413.0,568.5 L414.0,570.4 L415.0,572.2 L416.0,573.9 L417.0,575.6 L418.0,577.1 L419.0,578.6 L420.0,580.0 L421.0,581.3 L422.0,582.6 L423.0,583.8 L424.0,584.9 L425.0,585.9 L426.0,586.8 L427.0,587.5 L428.0,588.2 L429.0,588.7 L430.0,589.0 L431.0,589.2 L432.0,589.4 L433.0,589.6 L434.0,589.8 L435.0,589.9 L436.0,589.9 L437.0,590.0 L438.0,590.0 L439.0,590.0 L440.0,590.0 L441.0,589.9 L442.0,589.7 L443.0,589.5 L444.0,589.2 L445.0,589.0 L446.0,588.8 L447.0,588.8 L448.0,589.0 L449.0,589.3 L450.0,589.7 L451.0,590.2 L452.0,590.7 L453.0,591.3 L454.0,591.9 L455.0,592.4 L456.0,593.0 L457.0,593.6 L458.0,594.2 L459.0,594.8 L460.0,595.5 L461.0,596.2 L462.0,596.8 L463.0,597.4 L464.0,598.0 L465.0,598.4 L466.0,598.5 L467.0,598.4 L468.0,598.1 L469.0,597.6 L470.0,597.0 L471.0,596.2 L472.0,595.1 L473.0,593.7 L474.0,592.0 L475.0,590.2 L476.0,588.0 L477.0,585.6 L478.0,582.9 L479.0,580.1 L480.0,577.2 L481.0,574.5 L482.0,572.0 L483.0,569.7 L484.0,567.5 L485.0,565.5 L486.0,563.7 L487.0,562.0 L488.0,560.7 L489.0,559.8 L490.0,559.3 L491.0,559.0 L492.0,559.0 L493.0,559.1 L494.0,559.3 L495.0,559.8 L496.0,560.7 L497.0,562.1 L498.0,564.0 L499.0,566.4 L500.0,569.1 L501.0,571.9 L502.0,574.7 L503.0,577.5 L504.0,580.0 L505.0,582.4 L506.0,584.7 L507.0,587.1 L508.0,589.4 L509.0,591.6 L510.0,593.8 L511.0,595.9 L512.0,598.0 L513.0,599.9 L514.0,601.6 L515.0,603.2 L516.0,604.6 L517.0,605.9 L518.0,607.0 L519.0,608.0 L520.0,609.0 L521.0,609.8 L522.0,610.3 L523.0,610.5 L524.0,610.4 L525.0,610.0 L526.0,609.3 L527.0,608.3 L528.0,607.1 L529.0,605.7 L530.0,604.0 L531.0,602.1 L532.0,600.1 L533.0,598.1 L534.0,596.0 L535.0,593.9 L536.0,591.9 L537.0,589.9 L538.0,588.0 L539.0,586.2 L540.0,584.5 L541.0,582.8 L542.0,581.2 L543.0,579.7 L544.0,578.3 L545.0,577.0 L546.0,575.9 L547.0,575.1 L548.0,574.6 L549.0,574.3 L550.0,574.1 L551.0,574.0 L552.0,574.0 L553.0,574.2 L554.0,574.7 L555.0,575.6 L556.0,577.0 L557.0,578.8 L558.0,580.7 L559.0,582.8 L560.0,585.0 L561.0,587.4 L562.0,590.0 L563.0,592.7 L564.0,595.3 L565.0,598.0 L566.0,600.7 L567.0,603.3 L568.0,606.0 L569.0,608.7 L570.0,611.3 L571.0,614.0 L572.0,616.7 L573.0,619.3 L574.0,622.0 L575.0,624.6 L576.0,626.9 L577.0,629.1 L578.0,631.1 L579.0,633.1 L580.0,635.0 L581.0,636.9 L582.0,638.7 L583.0,640.5 L584.0,642.2 L585.0,643.8 L586.0,645.3 L587.0,646.7 L588.0,648.0 L589.0,649.2 L590.0,650.4 L591.0,651.6 L592.0,652.8 L593.0,654.0 L594.0,655.2 L595.0,656.4 L596.0,657.6 L597.0,658.8 L598.0,660.0 L599.0,661.2 L600.0,662.4 L601.0,663.6 L602.0,664.8 L603.0,666.0 L604.0,667.2 L605.0,668.4 L606.0,669.6 L607.0,670.8 L608.0,672.0 L609.0,673.1 L610.0,674.1 L611.0,674.9 L612.0,675.7 L613.0,676.3 L614.0,676.9 L615.0,677.5 L616.0,678.0 L617.0,678.5 L618.0,678.8 L619.0,679.0 L620.0,679.1 L621.0,679.1 L622.0,679.0 L623.0,678.7 L624.0,678.3 L625.0,677.7 L626.0,676.9 L627.0,676.0 L628.0,675.0 L629.0,673.7 L630.0,672.1 L631.0,670.4 L632.0,668.8 L633.0,667.2 L634.0,666.0 L635.0,665.0 L636.0,664.1 L637.0,663.2 L638.0,662.4 L639.0,661.7 L640.0,661.0 L641.0,660.5 L642.0,660.0 L643.0,659.6 L644.0,659.4 L645.0,659.2 L646.0,659.0 L647.0,658.9 L648.0,658.7 L649.0,658.4 L650.0,658.0 L651.0,657.5 L652.0,657.0 L653.0,656.4 L654.0,655.8 L655.0,655.2 L656.0,654.5 L657.0,653.8 L658.0,653.0 L659.0,652.2 L660.0,651.2 L661.0,650.1 L662.0,649.0 L663.0,647.9 L664.0,646.8 L665.0,645.8 L666.0,645.0 L667.0,644.3 L668.0,643.7 L669.0,643.2 L670.0,642.7 L671.0,642.4 L672.0,642.2 L673.0,642.1 L674.0,642.0 L675.0,642.0 L676.0,642.1 L677.0,642.3 L678.0,642.5 L679.0,642.8 L680.0,643.2 L681.0,643.6 L682.0,644.0 L683.0,644.5 L684.0,645.0 L685.0,645.6 L686.0,646.2 L687.0,646.9 L688.0,647.6 L689.0,648.5 L690.0,649.4 L691.0,650.4 L692.0,651.5 L693.0,652.7 L694.0,654.0 L695.0,655.4 L696.0,656.9 L697.0,658.5 L698.0,660.2 L699.0,662.0 L700.0,663.9 L701.0,665.8 L702.0,667.8 L703.0,669.8 L704.0,671.8 L705.0,673.7 L706.0,675.7 L707.0,677.6 L708.0,679.5 L709.0,681.4 L710.0,683.2 L711.0,685.0 L712.0,686.8 L713.0,688.5 L714.0,690.1 L715.0,691.7 L716.0,693.1 L717.0,694.4 L718.0,695.5 L719.0,696.4 L720.0,697.2 L721.0,697.9 L722.0,698.5 L723.0,699.0 L724.0,699.5 L725.0,699.9 L726.0,700.4 L727.0,700.8 L728.0,701.1 L729.0,701.5 L730.0,701.8 L731.0,702.0 L732.0,702.2 L733.0,702.4 L734.0,702.7 L735.0,702.9 L736.0,703.0 L737.0,703.2 L738.0,703.3 L739.0,703.4 L740.0,703.5 L741.0,703.5 L742.0,703.6 L743.0,703.6 L744.0,703.6 L745.0,703.6 L746.0,703.6 L747.0,703.7 L748.0,703.7 L749.0,703.7 L750.0,703.7 L751.0,703.6 L752.0,703.6 L753.0,703.6 L754.0,703.6 L755.0,703.5 L756.0,703.5 L757.0,703.5 L758.0,703.4 L759.0,703.4 L760.0,703.3 L761.0,703.2 L762.0,703.2 L763.0,703.1 L764.0,703.1 L765.0,703.0 L766.0,702.9 L767.0,702.8 L768.0,702.8 L769.0,702.7 L770.0,702.6 L771.0,702.5 L772.0,702.4 L773.0,702.3 L774.0,702.1 L775.0,702.0 L776.0,701.8 L777.0,701.7 L778.0,701.5 L779.0,701.3 L780.0,701.1 L781.0,700.9 L782.0,700.6 L783.0,700.2 L784.0,699.9 L785.0,699.5 L786.0,699.1 L787.0,698.7 L788.0,698.4 L789.0,698.1 L790.0,697.8 L791.0,697.6 L792.0,697.3 L793.0,697.1 L794.0,696.9 L795.0,696.8 L796.0,696.6 L797.0,696.5 L798.0,696.4 L799.0,696.3 L800.0,696.3 L801.0,696.3 L802.0,696.3 L803.0,696.4 L804.0,696.4 L805.0,696.5 L806.0,696.6 L807.0,696.6 L808.0,696.8 L809.0,696.9 L810.0,697.0 L811.0,697.2 L812.0,697.4 L813.0,697.6 L814.0,697.8 L815.0,698.0 L816.0,698.2 L817.0,698.4 L818.0,698.6 L819.0,698.8 L820.0,699.0 L821.0,699.2 L822.0,699.4 L823.0,699.6 L824.0,699.8 L825.0,700.0 L826.0,700.3 L827.0,700.5 L828.0,700.7 L829.0,700.9 L830.0,701.1 L831.0,701.3 L832.0,701.6 L833.0,701.8 L834.0,702.0 L835.0,702.2 L836.0,702.4 L837.0,702.6 L838.0,702.8 L839.0,702.9 L840.0,703.0 L841.0,703.1 L842.0,703.2 L843.0,703.3 L844.0,703.4 L845.0,703.5 L846.0,703.6 L847.0,703.7 L848.0,703.7 L849.0,703.8 L850.0,703.9 L851.0,703.9 L852.0,704.0 L853.0,704.0 L854.0,704.0 L855.0,704.0 L856.0,704.0 L857.0,704.0 L858.0,704.0 L859.0,704.0 L860.0,704.0 L861.0,704.0 L862.0,704.0 L863.0,704.0 L864.0,704.0 L865.0,704.0 L866.0,704.0 L867.0,704.0 L868.0,704.0 L869.0,704.0 L870.0,704.0 L871.0,704.0 L872.0,704.0 L873.0,704.0 L874.0,704.0 L875.0,704.0 L876.0,704.0 L877.0,703.9 L878.0,703.9 L879.0,703.9 L880.0,703.9 L881.0,703.9 L882.0,703.9 L883.0,703.9 L884.0,703.9 L885.0,703.9 L886.0,703.9 L887.0,703.8 L888.0,703.8 L889.0,703.8 L890.0,703.8 L891.0,703.8 L892.0,703.8 L893.0,703.8 L894.0,703.7 L895.0,703.7 L896.0,703.7 L896.3,703.7"/>
<path stroke="#ff0000" d="M111.5,171.8 L112.5,172.3 L113.5,172.7 L114.5,172.9 L115.5,173.0 L116.5,173.0 L117.5,172.8 L118.5,172.4 L119.5,171.8 L120.5,171.2 L121.5,170.4 L122.5,169.6 L123.5,168.6 L124.5,167.6 L125.5,166.6 L126.5,165.8 L127.5,165.0 L128.5,164.3 L129.5,163.6 L130.5,163.0 L131.5,162.6 L132.5,162.3 L133.5,162.1 L134.5,162.0 L135.5,162.0 L136.5,162.3 L137.5,162.6 L138.5,163.0 L139.5,163.7 L140.5,164.6 L141.5,165.8 L142.5,167.3 L143.5,168.9 L144.5,170.8 L145.5,173.0 L146.5,175.5 L147.5,178.4 L148.5,181.7 L149.5,185.0 L150.5,188.3 L151.5,191.7 L152.5,195.0 L153.5,198.3 L154.5,201.7 L155.5,205.0 L156.5,208.3 L157.5,211.7 L158.5,215.0 L159.5,218.3 L160.5,221.6 L161.5,224.7 L162.5,227.6 L163.5,230.2 L164.5,232.6 L165.5,234.9 L166.5,237.0 L167.5,239.0 L168.5,240.9 L169.5,242.8 L170.5,244.6 L171.5,246.3 L172.5,247.9 L173.5,249.5 L174.5,251.1 L175.5,252.6 L176.5,254.0 L177.5,255.3 L178.5,256.6 L179.5,257.9 L180.5,259.1 L181.5,260.3 L182.5,261.4 L183.5,262.6 L184.5,263.7 L185.5,264.9 L186.5,266.1 L187.5,267.4 L188.5,268.6 L189.5,270.0 L190.5,271.3 L191.5,272.7 L192.5,274.1 L193.5,275.5 L194.5,277.0 L195.5,278.5 L196.5,280.1 L197.5,281.7 L198.5,283.4 L199.5,285.1 L200.5,286.9 L201.5,289.0 L202.5,291.3 L203.5,293.7 L204.5,296.3 L205.5,298.9 L206.5,301.5 L207.5,304.1 L208.5,306.6 L209.5,308.9 L210.5,311.1 L211.5,313.1 L212.5,315.1 L213.5,317.0 L214.5,318.9 L215.5,320.7 L216.5,322.4 L217.5,324.1 L218.5,325.7 L219.5,327.2 L220.5,328.7 L221.5,330.0 L222.5,331.1 L223.5,332.1 L224.5,332.9 L225.5,333.5 L226.5,334.0 L227.5,334.4 L228.5,334.7 L229.5,334.9 L230.5,335.1 L231.5,335.0 L232.5,334.8 L233.5,334.1 L234.5,333.0 L235.5,331.2 L236.5,328.7 L237.5,326.1 L238.5,323.4 L239.5,320.7 L240.5,318.0 L241.5,315.3 L242.5,312.7 L243.5,310.1 L244.5,307.5 L245.5,304.9 L246.5,302.3 L247.5,299.8 L248.5,297.3 L249.5,294.8 L250.5,292.8 L251.5,291.2 L252.5,290.1 L253.5,289.4 L254.5,289.0 L255.5,289.1 L256.5,289.3 L257.5,289.9 L258.5,290.6 L259.5,291.5 L260.5,292.5 L261.5,293.7 L262.5,295.0 L263.5,296.3 L264.5,297.7 L265.5,299.0 L266.5,300.3 L267.5,301.5 L268.5,302.5 L269.5,303.5 L270.5,304.3 L271.5,304.8 L272.5,305.2 L273.5,305.2 L274.5,304.8 L275.5,304.0 L276.5,302.9 L277.5,301.7 L278.5,300.3 L279.5,298.8 L280.5,297.2 L281.5,295.4 L282.5,293.4 L283.5,291.4 L284.5,289.7 L285.5,288.4 L286.5,287.6 L287.5,287.1 L288.5,286.9 L289.5,286.9 L290.5,287.1 L291.5,287.5 L292.5,288.0 L293.5,288.9 L294.5,289.9 L295.5,291.2 L296.5,292.8 L297.5,294.7 L298.5,297.0 L299.5,299.7 L300.5,302.7 L301.5,306.1 L302.5,310.0 L303.5,314.1 L304.5,318.6 L305.5,323.4 L306.5,328.7 L307.5,334.2 L308.5,339.8 L309.5,345.3 L310.5,350.6 L311.5,355.8 L312.5,360.8 L313.5,365.6 L314.5,370.3 L315.5,374.6 L316.5,378.6 L317.5,382.3 L318.5,385.7 L319.5,388.9 L320.5,391.9 L321.5,394.7 L322.5,397.2 L323.5,399.7 L324.5,402.1 L325.5,404.4 L326.5,406.6 L327.5,408.8 L328.5,410.9 L329.5,413.0 L330.5,415.0 L331.5,416.9 L332.5,418.8 L333.5,420.6 L334.5,422.4 L335.5,424.1 L336.5,425.7 L337.5,427.3 L338.5,428.7 L339.5,430.1 L340.5,431.3 L341.5,432.4 L342.5,433.4 L343.5,434.2 L344.5,435.0 L345.5,435.7 L346.5,436.3 L347.5,436.8 L348.5,437.2 L349.5,437.4 L350.5,437.4 L351.5,437.2 L352.5,436.8 L353.5,436.2 L354.5,435.7 L355.5,435.1 L356.5,434.5 L357.5,433.8 L358.5,433.1 L359.5,432.4 L360.5,431.6 L361.5,430.8 L362.5,430.1 L363.5,429.3 L364.5,428.5 L365.5,427.7 L366.5,426.9 L367.5,426.1 L368.5,425.3 L369.5,424.4 L370.5,423.6 L371.5,422.7 L372.5,421.8 L373.5,421.0 L374.5,420.1 L375.5,419.2 L376.5,418.3 L377.5,417.4 L378.5,416.4 L379.5,415.5 L380.5,414.5 L381.5,413.5 L382.5,412.5 L383.5,411.4 L384.5,410.3 L385.5,409.2 L386.5,408.1 L387.5,406.9 L388.5,405.8 L389.5,404.7 L390.5,403.6 L391.5,402.5 L392.5,401.5 L393.5,400.5 L394.5,399.5 L395.5,398.6 L396.5,397.8 L397.5,396.9 L398.5,396.1 L399.5,395.4 L400.5,394.7 L401.5,394.1 L402.5,393.8 L403.5,393.7 L404.5,393.7 L405.5,393.8 L406.5,393.9 L407.5,394.1 L408.5,394.4 L409.5,394.8 L410.5,395.4 L411.5,396.3 L412.5,397.5 L413.5,399.1 L414.5,401.0 L415.5,403.1 L416.5,405.4 L417.5,407.7 L418.5,410.2 L419.5,412.7 L420.5,415.3 L421.5,418.0 L422.5,420.7 L423.5,423.4 L424.5,426.1 L425.5,428.7 L426.5,431.3 L427.5,433.7 L428.5,436.0 L429.5,438.1 L430.5,440.2 L431.5,442.1 L432.5,443.8 L433.5,445.2 L434.5,446.1 L435.5,446.6 L436.5,446.9 L437.5,447.0 L438.5,446.9 L439.5,446.5 L440.5,445.8 L441.5,444.7 L442.5,443.2 L443.5,441.5 L444.5,439.6 L445.5,437.6 L446.5,435.5 L447.5,433.2 L448.5,430.8 L449.5,428.1 L450.5,425.4 L451.5,422.6 L452.5,419.8 L453.5,417.2 L454.5,414.8 L455.5,412.7 L456.5,410.7 L457.5,408.9 L458.5,407.2 L459.5,405.7 L460.5,404.3 L461.5,403.2 L462.5,402.2 L463.5,401.6 L464.5,401.1 L465.5,401.0 L466.5,401.1 L467.5,401.3 L468.5,401.7 L469.5,402.3 L470.5,403.2 L471.5,404.3 L472.5,405.7 L473.5,407.2 L474.5,408.6 L475.5,410.1 L476.5,411.6 L477.5,413.1 L478.5,414.6 L479.5,416.2 L480.5,417.8 L481.5,419.5 L482.5,421.2 L483.5,422.9 L484.5,424.6 L485.5,426.3 L486.5,427.9 L487.5,429.3 L488.5,430.6 L489.5,431.9 L490.5,433.2 L491.5,434.6 L492.5,435.9 L493.5,437.1 L494.5,438.4 L495.5,439.8 L496.5,441.1 L497.5,442.4 L498.5,443.6 L499.5,444.9 L500.5,446.2 L501.5,447.6 L502.5,448.9 L503.5,450.1 L504.5,451.4 L505.5,452.8 L506.5,454.1 L507.5,455.4 L508.5,456.7 L509.5,458.3 L510.5,460.2 L511.5,462.3 L512.5,464.6 L513.5,466.9 L514.5,469.1 L515.5,471.5 L516.5,473.8 L517.5,476.2 L518.5,478.5 L519.5,480.8 L520.5,483.1 L521.5,485.4 L522.5,487.7 L523.5,489.9 L524.5,492.0 L525.5,494.0 L526.5,495.9 L527.5,497.6 L528.5,499.1 L529.5,500.4 L530.5,501.6 L531.5,502.6 L532.5,503.6 L533.5,504.5 L534.5,505.5 L535.5,506.3 L536.5,507.1 L537.5,507.9 L538.5,508.6 L539.5,509.4 L540.5,510.1 L541.5,510.9 L542.5,511.7 L543.5,512.5 L544.5,513.5 L545.5,514.3 L546.5,515.2 L547.5,516.1 L548.5,517.1 L549.5,518.2 L550.5,519.5 L551.5,521.1 L552.5,522.9 L553.5,524.8 L554.5,526.7 L555.5,528.6 L556.5,530.4 L557.5,532.3 L558.5,534.2 L559.5,536.1 L560.5,537.9 L561.5,539.8 L562.5,541.7 L563.5,543.6 L564.5,545.4 L565.5,547.3 L566.5,549.2 L567.5,551.1 L568.5,552.9 L569.5,554.4 L570.5,555.7 L571.5,556.8 L572.5,557.7 L573.5,558.4 L574.5,559.1 L575.5,559.7 L576.5,560.3 L577.5,560.9 L578.5,561.5 L579.5,562.0 L580.5,562.5 L581.5,562.8 L582.5,563.0 L583.5,563.0 L584.5,562.9 L585.5,562.7 L586.5,562.5 L587.5,562.2 L588.5,561.9 L589.5,561.6 L590.5,561.4 L591.5,561.1 L592.5,560.9 L593.5,560.7 L594.5,560.5 L595.5,560.4 L596.5,560.2 L597.5,560.1 L598.5,560.0 L599.5,560.0 L600.5,560.0 L601.5,560.4 L602.5,561.1 L603.5,562.2 L604.5,563.5 L605.5,565.1 L606.5,566.9 L607.5,568.9 L608.5,570.8 L609.5,572.8 L610.5,574.8 L611.5,576.9 L612.5,579.1 L613.5,581.2 L614.5,583.4 L615.5,585.6 L616.5,587.8 L617.5,589.9 L618.5,592.1 L619.5,594.2 L620.5,596.2 L621.5,598.2 L622.5,600.2 L623.5,602.1 L624.5,603.9 L625.5,605.5 L626.5,607.0 L627.5,608.3 L628.5,609.5 L629.5,610.5 L630.5,611.5 L631.5,612.4 L632.5,613.3 L633.5,614.2 L634.5,615.1 L635.5,615.9 L636.5,616.8 L637.5,617.6 L638.5,618.4 L639.5,619.2 L640.5,619.9 L641.5,620.6 L642.5,621.3 L643.5,622.1 L644.5,622.8 L645.5,623.6 L646.5,624.4 L647.5,625.5 L648.5,626.7 L649.5,628.0 L650.5,629.5 L651.5,631.1 L652.5,632.9 L653.5,634.8 L654.5,636.9 L655.5,639.0 L656.5,641.0 L657.5,643.0 L658.5,644.9 L659.5,646.8 L660.5,648.6 L661.5,650.3 L662.5,651.9 L663.5,653.3 L664.5,654.6 L665.5,655.5 L666.5,656.1 L667.5,656.6 L668.5,656.8 L669.5,656.9 L670.5,657.1 L671.5,657.1 L672.5,657.1 L673.5,657.0 L674.5,656.7 L675.5,656.3 L676.5,655.6 L677.5,654.8 L678.5,653.8 L679.5,652.7 L680.5,651.5 L681.5,650.4 L682.5,649.3 L683.5,648.4 L684.5,647.6 L685.5,646.9 L686.5,646.3 L687.5,645.7 L688.5,645.2 L689.5,644.8 L690.5,644.4 L691.5,644.1 L692.5,643.9 L693.5,643.9 L694.5,643.9 L695.5,644.1 L696.5,644.5 L697.5,644.9 L698.5,645.5 L699.5,646.2 L700.5,647.0 L701.5,647.9 L702.5,648.8 L703.5,649.9 L704.5,651.0 L705.5,652.3 L706.5,653.7 L707.5,655.2 L708.5,657.0 L709.5,659.0 L710.5,661.0 L711.5,663.0 L712.5,665.0 L713.5,667.0 L714.5,669.0 L715.5,671.0 L716.5,673.0 L717.5,675.0 L718.5,677.0 L719.5,679.0 L720.5,681.0 L721.5,683.0 L722.5,685.0 L723.5,687.0 L724.5,689.0 L725.5,691.0 L726.5,692.8 L727.5,694.4 L728.5,695.9 L729.5,697.3 L730.5,698.6 L731.5,699.8 L732.5,700.8 L733.5,701.7 L734.5,702.3 L735.5,702.9 L736.5,703.5 L737.5,704.0 L738.5,704.4 L739.5,704.5 L740.5,704.4 L741.5,703.9 L742.5,703.0 L743.5,701.6 L744.5,699.8 L745.5,697.8 L746.5,695.8 L747.5,694.0 L748.5,692.4 L749.5,691.2 L750.5,690.0 L751.5,688.8 L752.5,687.7 L753.5,686.7 L754.5,685.8 L755.5,684.9 L756.5,684.1 L757.5,683.5 L758.5,682.9 L759.5,682.4 L760.5,682.0 L761.5,681.7 L762.5,681.6 L763.5,681.6 L764.5,681.9 L765.5,682.4 L766.5,683.1 L767.5,683.7 L768.5,684.4 L769.5,685.1 L770.5,685.9 L771.5,686.6 L772.5,687.4 L773.5,688.2 L774.5,689.0 L775.5,689.9 L776.5,690.7 L777.5,691.6 L778.5,692.4 L779.5,693.2 L780.5,693.9 L781.5,694.4 L782.5,694.6 L783.5,694.6 L784.5,694.5 L785.5,694.2 L786.5,693.6 L787.5,692.6 L788.5,691.3 L789.5,689.8 L790.5,688.0 L791.5,686.1 L792.5,684.1 L793.5,682.1 L794.5,679.9 L795.5,677.5 L796.5,674.8 L797.5,671.8 L798.5,668.5 L799.5,665.2 L800.5,661.9 L801.5,658.5 L802.5,655.2 L803.5,651.9 L804.5,648.5 L805.5,645.2 L806.5,641.9 L807.5,638.5 L808.5,635.2 L809.5,631.9 L810.5,628.5 L811.5,625.2 L812.5,622.2 L813.5,619.5 L814.5,617.1 L815.5,615.0 L816.5,613.1 L817.5,611.5 L818.5,610.0 L819.5,609.0 L820.5,608.4 L821.5,608.0 L822.5,607.9 L823.5,608.0 L824.5,608.3 L825.5,608.7 L826.5,609.4 L827.5,610.4 L828.5,611.8 L829.5,613.6 L830.5,615.6 L831.5,617.8 L832.5,620.2 L833.5,622.9 L834.5,625.7 L835.5,628.7 L836.5,631.9 L837.5,635.3 L838.5,638.7 L839.5,642.2 L840.5,645.6 L841.5,648.8 L842.5,651.9 L843.5,654.9 L844.5,657.7 L845.5,660.5 L846.5,663.1 L847.5,665.7 L848.5,668.2 L849.5,670.5 L850.5,672.3 L851.5,673.8 L852.5,675.0 L853.5,675.9 L854.5,676.4 L855.5,676.5 L856.5,676.1 L857.5,675.0 L858.5,673.1 L859.5,670.6 L860.5,667.9 L861.5,665.2 L862.5,662.5 L863.5,659.8 L864.5,657.2 L865.5,654.5 L866.5,651.9 L867.5,649.3 L868.5,646.7 L869.5,644.1 L870.5,641.5 L871.5,638.9 L872.5,636.3 L873.5,633.7 L874.5,631.1 L875.5,628.6 L876.5,626.1 L877.5,623.6 L878.5,621.2 L879.5,618.8 L880.5,616.3 L881.5,614.0 L882.5,611.6 L883.5,609.5 L884.5,607.6 L885.5,605.8 L886.5,604.3 L887.5,602.8 L888.5,601.5 L889.5,600.3 L890.5,599.1 L891.5,598.0 L892.5,597.1 L893.5,596.3 L894.5,595.6 L895.5,595.0 L896.5,594.6 L897.5,594.2 L898.5,594.0 L899.5,593.8 L900.5,593.8 L901.5,593.8 L902.5,593.9 L903.5,594.0 L904.5,594.4 L905.5,594.9 L906.5,595.8 L907.5,597.0 L908.5,598.5 L909.5,600.1 L910.5,601.8 L911.5,603.5 L912.5,605.2 L913.5,606.8 L914.5,608.5 L915.5,610.2 L916.5,611.8 L917.5,613.5 L918.5,615.1 L919.5,616.7 L920.5,618.4 L921.5,620.0 L922.5,621.3 L923.5,622.2 L924.5,622.8 L925.5,623.2 L926.5,623.5 L927.5,623.8 L928.5,624.1 L929.5,624.2 L930.5,624.3 L931.0,624.2"/>
<path stroke="#000000" d="M144.2,145.2 L145.2,145.0 L146.2,144.8 L147.2,144.6 L148.2,144.4 L149.2,144.1 L150.2,143.7 L151.2,143.4 L152.2,143.2 L153.2,143.1 L154.2,143.0 L155.2,143.0 L156.2,143.1 L157.2,143.4 L158.2,143.8 L159.2,144.4 L160.2,145.2 L161.2,146.2 L162.2,147.3 L163.2,148.8 L164.2,151.0 L165.2,153.6 L166.2,156.4 L167.2,159.4 L168.2,162.4 L169.2,165.6 L170.2,168.7 L171.2,171.8 L172.2,175.0 L173.2,178.3 L174.2,181.7 L175.2,185.2 L176.2,188.6 L177.2,192.1 L178.2,195.5 L179.2,199.0 L180.2,202.4 L181.2,205.8 L182.2,209.2 L183.2,212.6 L184.2,216.0 L185.2,219.3 L186.2,222.7 L187.2,225.9 L188.2,229.2 L189.2,232.5 L190.2,235.7 L191.2,239.0 L192.2,242.3 L193.2,245.6 L194.2,248.9 L195.2,252.2 L196.2,255.6 L197.2,259.0 L198.2,262.5 L199.2,266.4 L200.2,270.6 L201.2,274.8 L202.2,278.8 L203.2,282.7 L204.2,286.4 L205.2,290.1 L206.2,293.7 L207.2,297.2 L208.2,300.7 L209.2,303.9 L210.2,306.9 L211.2,309.7 L212.2,312.2 L213.2,314.4 L214.2,316.4 L215.2,318.2 L216.2,319.9 L217.2,321.4 L218.2,322.7 L219.2,323.8 L220.2,324.8 L221.2,325.6 L222.2,326.1 L223.2,326.5 L224.2,327.0 L225.2,327.4 L226.2,327.8 L227.2,328.2 L228.2,328.6 L229.2,329.0 L230.2,329.4 L231.2,329.8 L232.2,330.2 L233.2,330.6 L234.2,331.1 L235.2,331.6 L236.2,332.2 L237.2,332.7 L238.2,333.3 L239.2,333.9 L240.2,334.5 L241.2,335.0 L242.2,335.4 L243.2,335.8 L244.2,336.0 L245.2,336.1 L246.2,336.0 L247.2,335.8 L248.2,335.5 L249.2,335.2 L250.2,335.0 L251.2,334.7 L252.2,334.4 L253.2,334.1 L254.2,333.8 L255.2,333.5 L256.2,333.2 L257.2,333.0 L258.2,333.0 L259.2,333.4 L260.2,334.2 L261.2,335.3 L262.2,336.7 L263.2,338.4 L264.2,340.5 L265.2,343.0 L266.2,346.0 L267.2,349.2 L268.2,352.7 L269.2,356.3 L270.2,360.1 L271.2,364.5 L272.2,369.6 L273.2,374.7 L274.2,379.8 L275.2,385.0 L276.2,390.2 L277.2,395.5 L278.2,400.7 L279.2,406.1 L280.2,412.1 L281.2,418.5 L282.2,425.0 L283.2,431.2 L284.2,437.0 L285.2,442.5 L286.2,447.8 L287.2,453.0 L288.2,457.9 L289.2,462.3 L290.2,466.2 L291.2,469.7 L292.2,472.5 L293.2,475.0 L294.2,477.3 L295.2,479.4 L296.2,481.2 L297.2,482.8 L298.2,484.1 L299.2,485.3 L300.2,486.2 L301.2,487.0 L302.2,487.8 L303.2,488.6 L304.2,489.4 L305.2,490.1 L306.2,490.8 L307.2,491.5 L308.2,492.1 L309.2,492.6 L310.2,493.1 L311.2,493.6 L312.2,494.0 L313.2,494.4 L314.2,494.9 L315.2,495.2 L316.2,495.6 L317.2,495.9 L318.2,496.2 L319.2,496.5 L320.2,496.7 L321.2,496.9 L322.2,497.0 L323.2,497.1 L324.2,497.0 L325.2,496.8 L326.2,496.6 L327.2,496.3 L328.2,495.9 L329.2,495.5 L330.2,495.0 L331.2,494.4 L332.2,493.9 L333.2,493.2 L334.2,492.4 L335.2,491.5 L336.2,490.5 L337.2,489.4 L338.2,488.3 L339.2,487.0 L340.2,485.7 L341.2,484.3 L342.2,482.8 L343.2,481.0 L344.2,479.1 L345.2,477.0 L346.2,474.7 L347.2,472.2 L348.2,469.4 L349.2,466.5 L350.2,463.3 L351.2,459.8 L352.2,455.9 L353.2,451.7 L354.2,447.0 L355.2,442.2 L356.2,437.4 L357.2,432.6 L358.2,427.8 L359.2,423.0 L360.2,418.2 L361.2,413.4 L362.2,408.6 L363.2,403.8 L364.2,399.1 L365.2,394.8 L366.2,391.2 L367.2,388.2 L368.2,385.7 L369.2,383.6 L370.2,381.9 L371.2,380.7 L372.2,379.9 L373.2,379.4 L374.2,379.1 L375.2,379.0 L376.2,378.9 L377.2,378.9 L378.2,379.3 L379.2,380.3 L380.2,382.0 L381.2,384.6 L382.2,388.0 L383.2,391.7 L384.2,395.4 L385.2,399.0 L386.2,402.1 L387.2,404.9 L388.2,407.6 L389.2,410.8 L390.2,414.9 L391.2,419.3 L392.2,423.7 L393.2,428.1 L394.2,432.5 L395.2,436.9 L396.2,441.3 L397.2,445.7 L398.2,450.1 L399.2,454.5 L400.2,458.9 L401.2,463.1 L402.2,467.0 L403.2,470.7 L404.2,474.2 L405.2,477.5 L406.2,480.6 L407.2,483.6 L408.2,486.4 L409.2,489.1 L410.2,491.6 L411.2,494.0 L412.2,496.3 L413.2,498.4 L414.2,500.4 L415.2,502.3 L416.2,504.2 L417.2,506.1 L418.2,507.9 L419.2,509.8 L420.2,511.5 L421.2,513.3 L422.2,515.0 L423.2,516.7 L424.2,518.3 L425.2,519.9 L426.2,521.5 L427.2,523.1 L428.2,524.7 L429.2,526.2 L430.2,527.7 L431.2,529.1 L432.2,530.6 L433.2,531.9 L434.2,533.3 L435.2,534.5 L436.2,535.7 L437.2,536.8 L438.2,537.8 L439.2,538.7 L440.2,539.6 L441.2,540.4 L442.2,541.1 L443.2,541.8 L444.2,542.3 L445.2,542.8 L446.2,543.2 L447.2,543.6 L448.2,544.1 L449.2,544.6 L450.2,545.1 L451.2,545.7 L452.2,546.4 L453.2,547.1 L454.2,547.9 L455.2,548.8 L456.2,549.8 L457.2,551.0 L458.2,552.3 L459.2,553.8 L460.2,555.7 L461.2,557.8 L462.2,560.1 L463.2,562.6 L464.2,565.2 L465.2,567.9 L466.2,570.5 L467.2,573.4 L468.2,576.5 L469.2,579.6 L470.2,582.8 L471.2,585.8 L472.2,588.5 L473.2,591.0 L474.2,593.3 L475.2,595.3 L476.2,597.2 L477.2,598.8 L478.2,600.3 L479.2,601.3 L480.2,601.9 L481.2,602.1 L482.2,602.0 L483.2,601.7 L484.2,601.2 L485.2,600.4 L486.2,599.3 L487.2,597.7 L488.2,595.5 L489.2,593.1 L490.2,590.5 L491.2,587.8 L492.2,585.1 L493.2,582.3 L494.2,579.4 L495.2,576.5 L496.2,573.4 L497.2,570.3 L498.2,567.3 L499.2,564.3 L500.2,561.4 L501.2,558.9 L502.2,556.7 L503.2,554.8 L504.2,553.2 L505.2,551.7 L506.2,550.5 L507.2,549.5 L508.2,548.9 L509.2,548.8 L510.2,549.1 L511.2,549.7 L512.2,550.3 L513.2,551.0 L514.2,551.7 L515.2,552.4 L516.2,553.2 L517.2,554.0 L518.2,554.9 L519.2,555.8 L520.2,556.6 L521.2,557.4 L522.2,558.1 L523.2,558.7 L524.2,559.1 L525.2,559.3 L526.2,559.4 L527.2,559.2 L528.2,558.9 L529.2,558.5 L530.2,558.2 L531.2,557.8 L532.2,557.4 L533.2,557.0 L534.2,556.7 L535.2,556.3 L536.2,555.9 L537.2,555.5 L538.2,555.2 L539.2,554.8 L540.2,554.4 L541.2,554.0 L542.2,553.7 L543.2,553.3 L544.2,552.9 L545.2,552.8 L546.2,553.0 L547.2,553.4 L548.2,554.0 L549.2,554.8 L550.2,555.6 L551.2,556.4 L552.2,557.1 L553.2,558.0 L554.2,558.9 L555.2,559.9 L556.2,560.9 L557.2,561.9 L558.2,562.7 L559.2,563.5 L560.2,564.1 L561.2,564.6 L562.2,565.0 L563.2,565.3 L564.2,565.6 L565.2,565.9 L566.2,566.1 L567.2,566.3 L568.2,566.5 L569.2,566.7 L570.2,566.7 L571.2,566.7 L572.2,566.7 L573.2,566.7 L574.2,566.7 L575.2,566.8 L576.2,567.1 L577.2,567.6 L578.2,568.3 L579.2,569.2 L580.2,570.2 L581.2,571.2 L582.2,572.3 L583.2,573.5 L584.2,574.9 L585.2,576.5 L586.2,578.4 L587.2,580.5 L588.2,582.6 L589.2,584.9 L590.2,587.1 L591.2,589.3 L592.2,591.4 L593.2,593.5 L594.2,595.6 L595.2,597.6 L596.2,599.6 L597.2,601.5 L598.2,603.4 L599.2,604.8 L600.2,605.9 L601.2,606.7 L602.2,607.2 L603.2,607.4 L604.2,607.5 L605.2,607.5 L606.2,607.5 L607.2,607.4 L608.2,607.2 L609.2,607.0 L610.2,606.7 L611.2,606.4 L612.2,606.0 L613.2,605.5 L614.2,605.0 L615.2,604.5 L616.2,604.0 L617.2,603.5 L618.2,603.2 L619.2,603.0 L620.2,602.8 L621.2,602.8 L622.2,602.7 L623.2,602.7 L624.2,602.8 L625.2,602.9 L626.2,603.1 L627.2,603.3 L628.2,603.6 L629.2,603.8 L630.2,604.1 L631.2,604.4 L632.2,604.7 L633.2,605.0 L634.2,605.4 L635.2,605.7 L636.2,606.0 L637.2,606.3 L638.2,606.6 L639.2,606.8 L640.2,607.1 L641.2,607.3 L642.2,607.6 L643.2,607.8 L644.2,608.0 L645.2,608.3 L646.2,608.5 L647.2,608.8 L648.2,609.1 L649.2,609.5 L650.2,610.3 L651.2,611.3 L652.2,612.4 L653.2,613.8 L654.2,615.3 L655.2,617.0 L656.2,618.9 L657.2,621.0 L658.2,623.3 L659.2,625.8 L660.2,628.6 L661.2,631.4 L662.2,634.3 L663.2,637.3 L664.2,640.4 L665.2,643.7 L666.2,647.0 L667.2,650.5 L668.2,653.9 L669.2,657.3 L670.2,660.7 L671.2,663.9 L672.2,667.1 L673.2,670.2 L674.2,673.2 L675.2,676.2 L676.2,679.1 L677.2,681.7 L678.2,684.2 L679.2,686.4 L680.2,688.5 L681.2,690.5 L682.2,692.3 L683.2,694.0 L684.2,695.5 L685.2,696.7 L686.2,697.9 L687.2,698.9 L688.2,699.9 L689.2,700.6 L690.2,701.2 L691.2,701.8 L692.2,702.3 L693.2,702.7 L694.2,703.1 L695.2,703.3 L696.2,703.4 L697.2,703.5 L698.2,703.5 L699.2,703.6 L700.2,703.6 L701.2,703.7 L702.2,703.7 L703.2,703.7 L704.2,703.7 L705.2,703.7 L706.2,703.7 L707.2,703.7 L708.2,703.7 L709.2,703.7 L710.2,703.7 L711.2,703.7 L712.2,703.7 L713.2,703.7 L714.2,703.8 L715.2,703.8 L716.2,703.8 L717.2,703.8 L718.2,703.7 L719.2,703.6 L720.2,703.4 L721.2,703.2 L722.2,702.9 L723.2,702.6 L724.2,702.1 L725.2,701.6 L726.2,701.0 L727.2,700.5 L728.2,699.9 L729.2,699.4 L730.2,698.9 L731.2,698.4 L732.2,698.0 L733.2,697.5 L734.2,697.1 L735.2,696.7 L736.2,696.2 L737.2,695.8 L738.2,695.4 L739.2,695.1 L740.2,694.9 L741.2,694.7 L742.2,694.6 L743.2,694.7 L744.2,694.7 L745.2,694.9 L746.2,695.0 L747.2,695.3 L748.2,695.6 L749.2,695.9 L750.2,696.3 L751.2,696.7 L752.2,697.2 L753.2,697.7 L754.2,698.3 L755.2,698.9 L756.2,699.6 L757.2,700.3 L758.2,701.0 L759.2,701.5 L760.2,702.0 L761.2,702.3 L762.2,702.7 L763.2,703.0 L764.2,703.2 L765.2,703.5 L766.2,703.6 L767.2,703.7 L768.2,703.8 L769.2,703.8 L770.2,703.8 L771.2,703.8 L772.2,703.8 L773.2,703.8 L774.2,703.9 L775.2,703.9 L776.2,703.9 L777.2,703.9 L778.2,703.9 L779.2,703.9 L780.2,703.9 L781.2,703.9 L782.2,703.9 L783.2,703.9 L784.2,703.9 L785.2,703.9 L786.2,703.9 L787.2,703.9 L788.2,703.9 L789.2,703.9 L790.2,703.9 L791.2,703.9 L792.2,703.9 L793.2,703.9 L794.2,703.9 L795.2,703.9 L796.2,703.9 L797.2,703.9 L798.2,703.9 L799.2,703.9 L800.2,703.9 L801.2,703.9 L802.2,703.9 L803.2,703.9 L804.2,703.9 L805.2,703.9 L806.2,703.9 L807.2,703.9 L808.2,703.9 L809.2,703.9 L810.2,703.9 L811.2,703.9 L812.2,703.9 L813.2,703.9 L814.2,703.9 L815.2,703.9 L816.2,703.9 L817.2,703.9 L818.2,703.9 L819.2,703.9 L820.2,703.9 L821.2,703.9 L822.2,703.9 L823.2,703.9 L824.2,703.9 L825.2,703.9 L826.2,703.9 L827.2,703.9 L828.2,703.9 L829.2,703.9 L830.2,703.9 L831.2,703.9 L832.2,703.9 L833.2,703.9 L834.2,703.9 L835.2,703.9 L836.2,703.9 L837.2,703.9 L838.2,703.9 L839.2,703.9 L840.2,703.9 L841.2,703.9 L842.2,703.9 L843.2,703.9 L844.2,703.9 L845.2,703.9 L846.2,703.9 L847.2,703.9 L848.2,703.9 L849.2,703.9 L850.2,703.9 L851.2,703.9 L852.2,703.8 L853.2,703.8 L854.2,703.8 L855.2,703.8 L856.2,703.8 L857.2,703.7 L858.2,703.7 L859.2,703.7 L860.2,703.6 L861.2,703.6 L862.2,703.5 L863.2,703.5 L864.2,703.4 L865.2,703.3 L866.2,703.2 L867.2,703.0 L868.2,702.9 L869.2,702.7 L870.2,702.4 L871.2,702.2 L872.2,702.0 L873.2,701.7 L874.2,701.5 L875.2,701.3 L876.2,701.0 L877.2,700.8 L878.2,700.6 L879.2,700.4 L880.2,700.1 L881.2,699.9 L882.2,699.7 L883.2,699.4 L884.2,699.2 L885.2,699.0 L886.2,698.7 L887.2,698.5 L888.2,698.3 L889.2,698.0 L890.2,697.8 L891.2,697.6 L892.2,697.5 L893.2,697.3 L894.2,697.2 L895.2,697.1 L896.2,697.0 L897.2,697.0 L898.2,697.1 L899.2,697.2 L900.2,697.3 L901.2,697.6 L902.2,697.8 L903.2,698.1 L904.2,698.4 L905.2,698.7 L906.2,699.1 L907.2,699.4 L908.2,699.8 L909.2,700.2 L910.2,700.6 L911.2,701.0 L912.2,701.4 L913.2,701.8 L914.2,702.1 L915.2,702.4 L916.2,702.6 L917.2,702.8 L918.2,703.0 L919.2,703.2 L920.2,703.3 L921.2,703.4 L922.2,703.5 L923.2,703.6 L924.2,703.7 L925.2,703.8 L926.2,703.8 L927.2,703.9 L928.2,703.9 L929.2,704.0 L930.2,704.0 L931.2,704.1 L932.2,704.1 L933.2,704.1 L934.2,704.1 L935.2,704.1 L936.2,704.2 L937.2,704.2 L938.2,704.2 L939.2,704.1 L940.2,704.1 L941.2,704.1 L942.2,704.1 L943.2,704.1 L944.2,704.0 L945.2,704.0 L946.2,703.9 L947.2,703.8 L947.9,703.8"/>
<path stroke="#00ff00" d="M111.4,162.1 L112.4,162.6 L113.4,163.1 L114.4,163.7 L115.4,164.2 L116.4,164.7 L117.4,165.3 L118.4,165.8 L119.4,166.4 L120.4,167.0 L121.4,167.6 L122.4,168.2 L123.4,168.8 L124.4,169.4 L125.4,170.0 L126.4,170.6 L127.4,171.3 L128.4,171.9 L129.4,172.6 L130.4,173.3 L131.4,174.0 L132.4,174.6 L133.4,175.4 L134.4,176.1 L135.4,176.8 L136.4,177.5 L137.4,178.3 L138.4,179.0 L139.4,179.8 L140.4,180.5 L141.4,181.3 L142.4,182.1 L143.4,182.8 L144.4,183.6 L145.4,184.4 L146.4,185.2 L147.4,186.0 L148.4,186.7 L149.4,187.5 L150.4,188.3 L151.4,189.1 L152.4,189.9 L153.4,190.7 L154.4,191.6 L155.4,192.5 L156.4,193.4 L157.4,194.3 L158.4,195.3 L159.4,196.3 L160.4,197.5 L161.4,198.7 L162.4,200.1 L163.4,201.6 L164.4,203.2 L165.4,204.9 L166.4,206.5 L167.4,208.2 L168.4,209.7 L169.4,211.2 L170.4,212.5 L171.4,213.9 L172.4,215.2 L173.4,216.6 L174.4,217.9 L175.4,219.2 L176.4,220.4 L177.4,221.5 L178.4,222.6 L179.4,223.5 L180.4,224.3 L181.4,225.1 L182.4,225.9 L183.4,226.7 L184.4,227.5 L185.4,228.3 L186.4,229.1 L187.4,229.9 L188.4,230.7 L189.4,231.5 L190.4,232.3 L191.4,233.1 L192.4,233.9 L193.4,234.7 L194.4,235.5 L195.4,236.3 L196.4,237.1 L197.4,237.9 L198.4,238.7 L199.4,239.5 L200.4,240.3 L201.4,241.2 L202.4,242.0 L203.4,243.0 L204.4,243.9 L205.4,244.8 L206.4,245.8 L207.4,246.7 L208.4,247.6 L209.4,248.5 L210.4,249.3 L211.4,250.2 L212.4,251.0 L213.4,251.7 L214.4,252.5 L215.4,253.2 L216.4,254.0 L217.4,254.7 L218.4,255.4 L219.4,256.1 L220.4,256.7 L221.4,257.4 L222.4,258.0 L223.4,258.6 L224.4,259.2 L225.4,259.8 L226.4,260.4 L227.4,260.9 L228.4,261.4 L229.4,261.8 L230.4,262.3 L231.4,262.7 L232.4,263.2 L233.4,263.6 L234.4,264.1 L235.4,264.6 L236.4,265.1 L237.4,265.7 L238.4,266.2 L239.4,266.8 L240.4,267.4 L241.4,268.0 L242.4,268.6 L243.4,269.2 L244.4,269.9 L245.4,270.7 L246.4,271.5 L247.4,272.4 L248.4,273.4 L249.4,274.4 L250.4,275.4 L251.4,276.4 L252.4,277.4 L253.4,278.4 L254.4,279.4 L255.4,280.4 L256.4,281.4 L257.4,282.4 L258.4,283.4 L259.4,284.4 L260.4,285.4 L261.4,286.4 L262.4,287.4 L263.4,288.4 L264.4,289.4 L265.4,290.4 L266.4,291.4 L267.4,292.4 L268.4,293.4 L269.4,294.4 L270.4,295.4 L271.4,296.4 L272.4,297.3 L273.4,298.2 L274.4,299.0 L275.4,299.9 L276.4,300.8 L277.4,301.6 L278.4,302.5 L279.4,303.4 L280.4,304.4 L281.4,305.4 L282.4,306.4 L283.4,307.5 L284.4,308.7 L285.4,310.0 L286.4,311.4 L287.4,313.0 L288.4,314.7 L289.4,316.4 L290.4,318.2 L291.4,319.9 L292.4,321.7 L293.4,323.4 L294.4,325.2 L295.4,326.9 L296.4,328.7 L297.4,330.4 L298.4,332.2 L299.4,333.9 L300.4,335.7 L301.4,337.4 L302.4,339.2 L303.4,340.9 L304.4,342.7 L305.4,344.3 L306.4,345.8 L307.4,347.2 L308.4,348.5 L309.4,349.7 L310.4,350.8 L311.4,351.9 L312.4,352.8 L313.4,353.8 L314.4,354.6 L315.4,355.5 L316.4,356.3 L317.4,357.2 L318.4,358.0 L319.4,358.8 L320.4,359.7 L321.4,360.5 L322.4,361.3 L323.4,362.2 L324.4,363.0 L325.4,363.8 L326.4,364.7 L327.4,365.5 L328.4,366.3 L329.4,367.2 L330.4,368.0 L331.4,368.8 L332.4,369.7 L333.4,370.5 L334.4,371.3 L335.4,372.2 L336.4,373.0 L337.4,373.8 L338.4,374.7 L339.4,375.5 L340.4,376.3 L341.4,377.1 L342.4,377.8 L343.4,378.4 L344.4,378.9 L345.4,379.4 L346.4,379.8 L347.4,380.2 L348.4,380.5 L349.4,380.8 L350.4,381.1 L351.4,381.3 L352.4,381.6 L353.4,381.9 L354.4,382.1 L355.4,382.4 L356.4,382.6 L357.4,382.9 L358.4,383.1 L359.4,383.4 L360.4,383.6 L361.4,383.9 L362.4,384.1 L363.4,384.4 L364.4,384.6 L365.4,384.9 L366.4,385.1 L367.4,385.4 L368.4,385.6 L369.4,385.9 L370.4,386.1 L371.4,386.4 L372.4,386.6 L373.4,386.9 L374.4,387.1 L375.4,387.4 L376.4,387.6 L377.4,387.9 L378.4,388.1 L379.4,388.4 L380.4,388.6 L381.4,388.9 L382.4,389.1 L383.4,389.4 L384.4,389.6 L385.4,389.9 L386.4,390.2 L387.4,390.5 L388.4,390.9 L389.4,391.3 L390.4,391.7 L391.4,392.1 L392.4,392.5 L393.4,392.9 L394.4,393.4 L395.4,393.8 L396.4,394.3 L397.4,394.7 L398.4,395.2 L399.4,395.6 L400.4,396.1 L401.4,396.6 L402.4,397.1 L403.4,397.6 L404.4,398.2 L405.4,398.8 L406.4,399.4 L407.4,400.1 L408.4,400.8 L409.4,401.5 L410.4,402.3 L411.4,403.2 L412.4,404.1 L413.4,405.0 L414.4,405.9 L415.4,406.9 L416.4,407.9 L417.4,409.0 L418.4,410.0 L419.4,411.1 L420.4,412.2 L421.4,413.3 L422.4,414.4 L423.4,415.6 L424.4,416.7 L425.4,417.8 L426.4,419.0 L427.4,420.1 L428.4,421.3 L429.4,422.4 L430.4,423.6 L431.4,424.8 L432.4,426.0 L433.4,427.3 L434.4,428.5 L435.4,429.8 L436.4,431.1 L437.4,432.4 L438.4,433.8 L439.4,435.1 L440.4,436.5 L441.4,437.9 L442.4,439.2 L443.4,440.6 L444.4,441.9 L445.4,443.2 L446.4,444.5 L447.4,445.8 L448.4,447.0 L449.4,448.3 L450.4,449.5 L451.4,450.7 L452.4,451.8 L453.4,453.0 L454.4,454.1 L455.4,455.2 L456.4,456.3 L457.4,457.4 L458.4,458.4 L459.4,459.4 L460.4,460.4 L461.4,461.3 L462.4,462.1 L463.4,462.9 L464.4,463.5 L465.4,464.1 L466.4,464.5 L467.4,464.9 L468.4,465.1 L469.4,465.3 L470.4,465.5 L471.4,465.7 L472.4,465.9 L473.4,466.1 L474.4,466.3 L475.4,466.5 L476.4,466.7 L477.4,466.9 L478.4,467.1 L479.4,467.3 L480.4,467.5 L481.4,467.7 L482.4,467.9 L483.4,468.1 L484.4,468.3 L485.4,468.5 L486.4,468.7 L487.4,468.9 L488.4,469.1 L489.4,469.4 L490.4,469.9 L491.4,470.4 L492.4,471.0 L493.4,471.7 L494.4,472.4 L495.4,473.1 L496.4,473.9 L497.4,474.6 L498.4,475.3 L499.4,476.0 L500.4,476.7 L501.4,477.4 L502.4,478.1 L503.4,478.8 L504.4,479.5 L505.4,480.2 L506.4,480.9 L507.4,481.6 L508.4,482.3 L509.4,482.9 L510.4,483.5 L511.4,484.0 L512.4,484.6 L513.4,485.1 L514.4,485.5 L515.4,486.0 L516.4,486.4 L517.4,486.8 L518.4,487.1 L519.4,487.4 L520.4,487.5 L521.4,487.6 L522.4,487.6 L523.4,487.6 L524.4,487.6 L525.4,487.7 L526.4,487.7 L527.4,487.9 L528.4,488.1 L529.4,488.4 L530.4,488.7 L531.4,489.0 L532.4,489.4 L533.4,489.9 L534.4,490.3 L535.4,490.9 L536.4,491.4 L537.4,492.1 L538.4,492.8 L539.4,493.5 L540.4,494.3 L541.4,495.3 L542.4,496.4 L543.4,497.6 L544.4,498.9 L545.4,500.2 L546.4,501.5 L547.4,502.8 L548.4,504.1 L549.4,505.3 L550.4,506.5 L551.4,507.5 L552.4,508.3 L553.4,509.2 L554.4,510.0 L555.4,510.8 L556.4,511.6 L557.4,512.3 L558.4,513.1 L559.4,513.8 L560.4,514.5 L561.4,515.3 L562.4,515.9 L563.4,516.6 L564.4,517.3 L565.4,517.9 L566.4,518.4 L567.4,519.0 L568.4,519.5 L569.4,520.1 L570.4,520.6 L571.4,521.2 L572.4,521.7 L573.4,522.3 L574.4,522.9 L575.4,523.6 L576.4,524.3 L577.4,525.0 L578.4,525.8 L579.4,526.6 L580.4,527.4 L581.4,528.2 L582.4,529.1 L583.4,529.9 L584.4,530.8 L585.4,531.7 L586.4,532.6 L587.4,533.5 L588.4,534.4 L589.4,535.3 L590.4,536.2 L591.4,537.2 L592.4,538.1 L593.4,539.1 L594.4,540.1 L595.4,541.1 L596.4,542.2 L597.4,543.2 L598.4,544.3 L599.4,545.3 L600.4,546.4 L601.4,547.6 L602.4,548.8 L603.4,550.0 L604.4,551.3 L605.4,552.7 L606.4,554.2 L607.4,555.7 L608.4,557.3 L609.4,559.0 L610.4,560.7 L611.4,562.6 L612.4,564.6 L613.4,566.7 L614.4,568.7 L615.4,570.8 L616.4,572.9 L617.4,574.9 L618.4,576.7 L619.4,578.6 L620.4,580.4 L621.4,582.2 L622.4,584.0 L623.4,585.7 L624.4,587.4 L625.4,589.0 L626.4,590.6 L627.4,592.1 L628.4,593.6 L629.4,595.0 L630.4,596.3 L631.4,597.5 L632.4,598.5 L633.4,599.5 L634.4,600.3 L635.4,601.1 L636.4,601.9 L637.4,602.7 L638.4,603.5 L639.4,604.3 L640.4,605.1 L641.4,605.9 L642.4,606.7 L643.4,607.5 L644.4,608.3 L645.4,609.1 L646.4,609.9 L647.4,610.7 L648.4,611.5 L649.4,612.3 L650.4,613.1 L651.4,613.9 L652.4,614.7 L653.4,615.5 L654.4,616.3 L655.4,617.2 L656.4,618.2 L657.4,619.2 L658.4,620.2 L659.4,621.3 L660.4,622.4 L661.4,623.4 L662.4,624.5 L663.4,625.4 L664.4,626.4 L665.4,627.2 L666.4,628.1 L667.4,628.9 L668.4,629.7 L669.4,630.5 L670.4,631.2 L671.4,631.9 L672.4,632.5 L673.4,633.1 L674.4,633.7 L675.4,634.3 L676.4,634.8 L677.4,635.2 L678.4,635.7 L679.4,636.1 L680.4,636.4 L681.4,636.8 L682.4,637.1 L683.4,637.3 L684.4,637.6 L685.4,637.8 L686.4,637.9 L687.4,638.0 L688.4,638.1 L689.4,638.2 L690.4,638.2 L691.4,638.3 L692.4,638.4 L693.4,638.5 L694.4,638.6 L695.4,638.8 L696.4,639.1 L697.4,639.4 L698.4,639.7 L699.4,640.1 L700.4,640.4 L701.4,640.8 L702.4,641.2 L703.4,641.7 L704.4,642.2 L705.4,642.7 L706.4,643.2 L707.4,643.8 L708.4,644.4 L709.4,645.0 L710.4,645.6 L711.4,646.2 L712.4,646.9 L713.4,647.5 L714.4,648.1 L715.4,648.7 L716.4,649.2 L717.4,649.8 L718.4,650.3 L719.4,650.9 L720.4,651.4 L721.4,651.9 L722.4,652.4 L723.4,652.9 L724.4,653.3 L725.4,653.8 L726.4,654.2 L727.4,654.5 L728.4,654.8 L729.4,655.1 L730.4,655.3 L731.4,655.5 L732.4,655.7 L733.4,655.9 L734.4,656.0 L735.4,656.2 L736.4,656.3 L737.4,656.4 L738.4,656.5 L739.4,656.6 L740.4,656.7 L741.4,656.7 L742.4,656.7 L743.4,656.7 L744.4,656.6 L745.4,656.6 L746.4,656.6 L747.4,656.6 L748.4,656.7 L749.4,656.8 L750.4,656.9 L751.4,657.1 L752.4,657.3 L753.4,657.6 L754.4,657.9 L755.4,658.3 L756.4,658.7 L757.4,659.1 L758.4,659.5 L759.4,660.0 L760.4,660.5 L761.4,661.1 L762.4,661.6 L763.4,662.2 L764.4,662.8 L765.4,663.3 L766.4,663.9 L767.4,664.5 L768.4,665.1 L769.4,665.7 L770.4,666.3 L771.4,667.0 L772.4,667.6 L773.4,668.3 L774.4,668.9 L775.4,669.6 L776.4,670.3 L777.4,671.0 L778.4,671.8 L779.4,672.5 L780.4,673.2 L781.4,673.9 L782.4,674.6 L783.4,675.3 L784.4,676.0 L785.4,676.6 L786.4,677.2 L787.4,677.8 L788.4,678.3 L789.4,678.8 L790.4,679.3 L791.4,679.8 L792.4,680.2 L793.4,680.6 L794.4,681.0 L795.4,681.3 L796.4,681.6 L797.4,681.9 L798.4,682.1 L799.4,682.3 L800.4,682.4 L801.4,682.5 L802.4,682.4 L803.4,682.4 L804.4,682.2 L805.4,682.1 L806.4,681.9 L807.4,681.7 L808.4,681.5 L809.4,681.4 L810.4,681.2 L811.4,681.0 L812.4,680.8 L813.4,680.7 L814.4,680.5 L815.4,680.3 L816.4,680.2 L817.4,680.0 L818.4,679.9 L819.4,679.8 L820.4,679.6 L821.4,679.5 L822.4,679.3 L823.4,679.2 L824.4,679.0 L825.4,678.9 L826.4,678.7 L827.4,678.6 L828.4,678.5 L829.4,678.3 L830.4,678.2 L831.4,678.0 L832.4,677.9 L833.4,677.8 L834.4,677.6 L835.4,677.5 L836.4,677.4 L837.4,677.3 L838.4,677.1 L839.4,677.0 L840.4,676.9 L841.4,676.8 L842.4,676.7 L843.4,676.6 L844.4,676.5 L845.4,676.4 L846.4,676.3 L847.4,676.4 L848.4,676.4 L849.4,676.5 L850.4,676.7 L851.4,676.9 L852.4,677.1 L853.4,677.3 L854.4,677.5 L855.4,677.6 L856.4,677.8 L857.4,677.9 L858.4,677.9 L859.4,677.9 L860.4,677.8 L861.4,677.6 L862.4,677.5 L863.4,677.2 L864.4,676.9 L865.4,676.6 L866.4,676.2 L867.4,675.8 L868.4,675.3 L869.4,674.7 L870.4,674.1 L871.4,673.4 L872.4,672.7 L873.4,672.0 L874.4,671.3 L875.4,670.7 L876.4,670.2 L877.4,669.7 L878.4,669.2 L879.4,668.8 L880.4,668.4 L881.4,668.0 L882.4,667.6 L883.4,667.4 L884.4,667.1 L885.4,667.0 L886.4,666.9 L887.4,666.9 L888.4,667.0 L889.4,667.1 L890.4,667.2 L891.4,667.4 L892.4,667.5 L893.4,667.7 L894.4,668.0 L895.4,668.2 L896.4,668.5 L897.4,668.8 L898.4,669.1 L899.4,669.4 L900.4,669.7 L901.4,670.1 L902.4,670.4 L903.4,670.8 L904.4,671.1 L905.4,671.5 L906.4,671.8 L907.4,672.2 L908.4,672.5 L909.4,672.8 L910.4,673.1 L911.4,673.4 L912.4,673.7 L913.4,674.0 L914.4,674.2 L915.4,674.4 L916.4,674.6 L917.4,674.8 L918.4,675.0 L919.4,675.2 L920.4,675.5 L921.4,675.7 L922.4,676.0 L923.4,676.3 L924.4,676.6 L925.4,677.0 L926.4,677.4 L927.4,677.8 L928.4,678.3 L929.4,678.7 L930.4,679.1 L931.4,679.5 L932.4,680.0 L933.4,680.4 L934.4,680.8 L935.4,681.2 L936.4,681.6 L937.4,682.1 L938.4,682.5 L939.4,682.9 L940.4,683.3 L941.4,683.7 L942.4,684.1 L943.4,684.4 L944.4,684.8 L945.4,685.2 L946.4,685.6 L947.4,686.0 L948.4,686.5 L949.4,686.9 L950.4,687.3 L951.4,687.8 L952.4,688.2 L953.0,688.5"/>
</g>
<g fill="none" stroke-width="5.5" stroke-dasharray="15.5 15.4">
<path stroke="#0000ff" d="M565.1,704.0 V67.1"/>
<path stroke="#000000" d="M596.2,704.0 V67.1"/>
<path stroke="#ff0000" d="M620.4,704.0 V67.1"/>
<path stroke="#00ff00" d="M628.9,704.0 V67.1"/>
</g>
<text x="530.5" y="49" font-size="39.3" font-weight="bold" text-anchor="middle" style="fill:#000">Forecast at CE042, 2020</text>
<text x="90.2" y="716.9" font-size="35.5" text-anchor="end">0</text>
<text x="90.2" y="557.4" font-size="35.5" text-anchor="end">2</text>
<text x="90.2" y="397.9" font-size="35.5" text-anchor="end">4</text>
<text x="90.2" y="238.5" font-size="35.5" text-anchor="end">6</text>
<text x="90.2" y="79.0" font-size="35.5" text-anchor="end">8</text>
<text x="111.4" y="759.3" font-size="35.5" text-anchor="middle">Feb</text>
<text x="211.4" y="759.3" font-size="35.5" text-anchor="middle">Mar</text>
<text x="318.4" y="759.3" font-size="35.5" text-anchor="middle">Apr</text>
<text x="421.9" y="759.3" font-size="35.5" text-anchor="middle">May</text>
<text x="528.8" y="759.3" font-size="35.5" text-anchor="middle">Jun</text>
<text x="632.3" y="759.3" font-size="35.5" text-anchor="middle">Jul</text>
<text x="739.3" y="759.3" font-size="35.5" text-anchor="middle">Aug</text>
<text x="846.2" y="759.3" font-size="35.5" text-anchor="middle">Sep</text>
<text x="949.7" y="759.3" font-size="35.5" text-anchor="middle">Oct</text>
<text x="530.5" y="807.8" font-size="40.4" text-anchor="middle">Year 2020</text>
<text transform="translate(50.3,385.7) rotate(-90)" font-size="39.3" text-anchor="middle">Bottom Oxygen (ml/l)</text>
<text x="210.8" y="634.5" font-size="33.7" style="fill:#000">Hypoxia</text>
<rect x="638.9" y="87.7" width="289.6" height="164.1" fill="#fff" stroke="#262626" stroke-width="1.3"/>
<path d="M646,110.8 H722.8" stroke="#0000ff" stroke-width="8" fill="none"/>
<text x="728" y="122.0" font-size="32.1" style="fill:#000">Run 1</text>
<path d="M646,150.2 H722.8" stroke="#ff0000" stroke-width="8" fill="none"/>
<text x="728" y="161.4" font-size="32.1" style="fill:#000">Run 2</text>
<path d="M646,189.6 H722.8" stroke="#000000" stroke-width="8" fill="none"/>
<text x="728" y="200.8" font-size="32.1" style="fill:#000">Run 3</text>
<path d="M646,229.0 H722.8" stroke="#00ff00" stroke-width="8" fill="none"/>
<text x="728" y="240.2" font-size="32.1" style="fill:#000">Climatology</text>
<defs>
<clipPath id="lc"><circle cx="861.05" cy="342.5" r="67.9"/></clipPath>
<linearGradient id="lgA" gradientUnits="userSpaceOnUse" x1="795" y1="320" x2="930" y2="350">
<stop offset="0" stop-color="#3fb0c0"/><stop offset="0.35" stop-color="#55bcd0"/><stop offset="0.58" stop-color="#4690d0"/><stop offset="0.8" stop-color="#2f64c6"/><stop offset="1" stop-color="#2650b8"/>
</linearGradient>
<radialGradient id="rgTL" gradientUnits="userSpaceOnUse" cx="834" cy="300" r="58">
<stop offset="0" stop-color="#8be0e2" stop-opacity="1"/><stop offset="0.55" stop-color="#70d0d8" stop-opacity="0.85"/><stop offset="1" stop-color="#58c0d0" stop-opacity="0"/>
</radialGradient>
<linearGradient id="lgRay" gradientUnits="userSpaceOnUse" x1="0" y1="274" x2="0" y2="345">
<stop offset="0" stop-color="#c9f3f1" stop-opacity="0.95"/><stop offset="0.55" stop-color="#aee8ea" stop-opacity="0.6"/><stop offset="1" stop-color="#9ddfe6" stop-opacity="0"/>
</linearGradient>
<linearGradient id="lgLow" gradientUnits="userSpaceOnUse" x1="0" y1="345" x2="0" y2="412">
<stop offset="0" stop-color="#3f7ed0" stop-opacity="0"/><stop offset="0.3" stop-color="#3f7ed0" stop-opacity="0.75"/><stop offset="0.7" stop-color="#3c78cc" stop-opacity="0.85"/><stop offset="1" stop-color="#3f80c8" stop-opacity="0.9"/>
</linearGradient>
<radialGradient id="rgBot" gradientUnits="userSpaceOnUse" cx="862" cy="398" r="34" gradientTransform="translate(862 398) scale(1 0.42) translate(-862 -398)">
<stop offset="0" stop-color="#8fd3e0" stop-opacity="0.95"/><stop offset="0.6" stop-color="#74bedb" stop-opacity="0.6"/><stop offset="1" stop-color="#5da4d6" stop-opacity="0"/>
</radialGradient>
<radialGradient id="rgGreen" gradientUnits="userSpaceOnUse" cx="858" cy="408" r="42" gradientTransform="translate(858 408) scale(1 0.2) translate(-858 -408)">
<stop offset="0" stop-color="#5fb096" stop-opacity="0.95"/><stop offset="0.7" stop-color="#52a19a" stop-opacity="0.75"/><stop offset="1" stop-color="#4f95b0" stop-opacity="0"/>
</radialGradient>
<radialGradient id="rgR" gradientUnits="userSpaceOnUse" cx="922" cy="362" r="58">
<stop offset="0" stop-color="#2148b8" stop-opacity="0.95"/><stop offset="0.5" stop-color="#2650bc" stop-opacity="0.6"/><stop offset="1" stop-color="#2a58be" stop-opacity="0"/>
</radialGradient>
<radialGradient id="rgLL" gradientUnits="userSpaceOnUse" cx="818" cy="374" r="34">
<stop offset="0" stop-color="#6a9fd2" stop-opacity="0.9"/><stop offset="1" stop-color="#4a86c8" stop-opacity="0"/>
</radialGradient>
<linearGradient id="lgFish" gradientUnits="userSpaceOnUse" x1="0" y1="362" x2="0" y2="380">
<stop offset="0" stop-color="#b2d3ea"/><stop offset="0.22" stop-color="#6e9cc4"/><stop offset="0.55" stop-color="#456f9e"/><stop offset="1" stop-color="#34608f"/>
</linearGradient>
<filter id="fb" x="-30%" y="-10%" width="160%" height="120%"><feGaussianBlur stdDeviation="3.2"/></filter>
<filter id="fb2" x="-20%" y="-20%" width="140%" height="140%"><feGaussianBlur stdDeviation="0.5"/></filter>
</defs>
<g clip-path="url(#lc)">
<rect x="792" y="273" width="140" height="140" fill="url(#lgA)"/>
<rect x="792" y="273" width="140" height="140" fill="url(#rgTL)"/>
<rect x="792" y="273" width="140" height="140" fill="url(#rgR)"/>
<g filter="url(#fb)"><polygon points="853,268 872,268 874,345 848,345" fill="url(#lgRay)"/>
<polygon points="872,268 888,268 902,335 882,340" fill="url(#lgRay)" opacity="0.4"/>
<polygon points="836,268 850,268 842,345 822,340" fill="url(#lgRay)" opacity="0.45"/></g>
<rect x="792" y="340" width="140" height="75" fill="url(#lgLow)"/>
<rect x="792" y="273" width="140" height="140" fill="url(#rgLL)"/>
<rect x="792" y="273" width="140" height="140" fill="url(#rgR)" opacity="0.6"/>
<rect x="792" y="370" width="140" height="45" fill="url(#rgBot)"/>
<rect x="792" y="390" width="140" height="25" fill="url(#rgGreen)"/>
<g fill="#2e7f96" opacity="0.45">
<ellipse cx="813" cy="302.5" rx="3.2" ry="1.1" transform="rotate(18 813 302.5)"/>
<ellipse cx="820" cy="306" rx="2" ry="0.8" transform="rotate(18 820 306)"/>
<ellipse cx="836" cy="291" rx="1.6" ry="0.6" transform="rotate(20 836 291)"/>
<ellipse cx="842" cy="287" rx="1.5" ry="0.6" transform="rotate(20 842 287)"/>
<ellipse cx="848" cy="296" rx="1.5" ry="0.6" transform="rotate(20 848 296)"/>
<ellipse cx="832" cy="312" rx="1.6" ry="0.6" transform="rotate(20 832 312)"/>
<ellipse cx="856" cy="284" rx="1.4" ry="0.5" transform="rotate(20 856 284)"/>
<ellipse cx="868" cy="290" rx="1.4" ry="0.5" transform="rotate(20 868 290)"/>
<ellipse cx="846" cy="318" rx="1.5" ry="0.6" transform="rotate(20 846 318)"/>
<ellipse cx="862" cy="312" rx="1.5" ry="0.6" transform="rotate(20 862 312)"/>
<ellipse cx="826" cy="296" rx="1.5" ry="0.6" transform="rotate(20 826 296)"/>
</g>
<g fill="#cfe6f6" opacity="0.35">
<circle cx="897" cy="312" r="0.8"/><circle cx="903" cy="322" r="0.9"/><circle cx="908" cy="316" r="0.7"/><circle cx="893" cy="326" r="0.7"/>
<circle cx="911" cy="330" r="0.8"/><circle cx="900" cy="305" r="0.7"/><circle cx="889" cy="318" r="0.7"/><circle cx="915" cy="324" r="0.7"/>
<circle cx="832" cy="355" r="0.9"/><circle cx="893" cy="366" r="0.8"/><circle cx="902" cy="374" r="0.8"/>
</g>
<g fill="none" stroke="#6f9fdc" stroke-width="0.8" opacity="0.5">
<ellipse cx="884" cy="360" rx="4" ry="2.2"/><ellipse cx="894" cy="358" rx="4" ry="2.2"/><ellipse cx="904" cy="357" rx="4" ry="2.2"/><ellipse cx="913" cy="360" rx="4" ry="2.2"/>
<ellipse cx="889" cy="365" rx="4" ry="2.2"/><ellipse cx="899" cy="364" rx="4" ry="2.2"/><ellipse cx="909" cy="365" rx="4" ry="2.2"/><ellipse cx="918" cy="366" rx="4" ry="2.2"/>
</g>
<path d="M836.4,369.1 C840,366.8 844,365.6 847,365.1 C850,364.4 853,363.6 855.5,363.5 L858.6,361.8 L861.5,363.4 C865,363.4 868.5,364 871,364.8 L873.2,363.9 L875.4,366.4 C878,368 880.5,370.8 882.8,372.2 L892.6,368.2 L886.2,375 L889.8,382.6 L881.6,376.2 C878.5,377.6 875.5,378.6 872.8,379.2 L871,382.2 L868.6,379.8 C863,380 857,379.2 852,377.2 C846,375.2 840,372.6 836.4,369.1 Z" fill="url(#lgFish)" stroke="#b5d6ee" stroke-opacity="0.55" stroke-width="0.7" filter="url(#fb2)"/>
<path d="M897.8,383.6 C901,382.2 906,382.6 909.5,384.2 L913.5,385.4 L912.2,388.6 C907,389.4 901,387.6 897.8,383.6 Z" fill="#44709f" stroke="#a9cbe8" stroke-opacity="0.6" stroke-width="0.6" filter="url(#fb2)"/>
<path d="M846,386 C851,383.5 858,384 863,386.5 L869,391 C862,390.5 853,390 846,386 Z" fill="#6f9fd2" opacity="0.45"/>
<path d="M803,372 C807,370 812,370 816,372 L820,375 C814,376 807,375.5 803,372 Z" fill="#7fb0d8" opacity="0.4"/>
</g>
<text x="803" y="353.3" font-size="28.4" textLength="118.2" lengthAdjust="spacingAndGlyphs" style="font-family:'Liberation Sans',sans-serif;fill:#fff">J-SCOPE</text>

</svg></body></html>
